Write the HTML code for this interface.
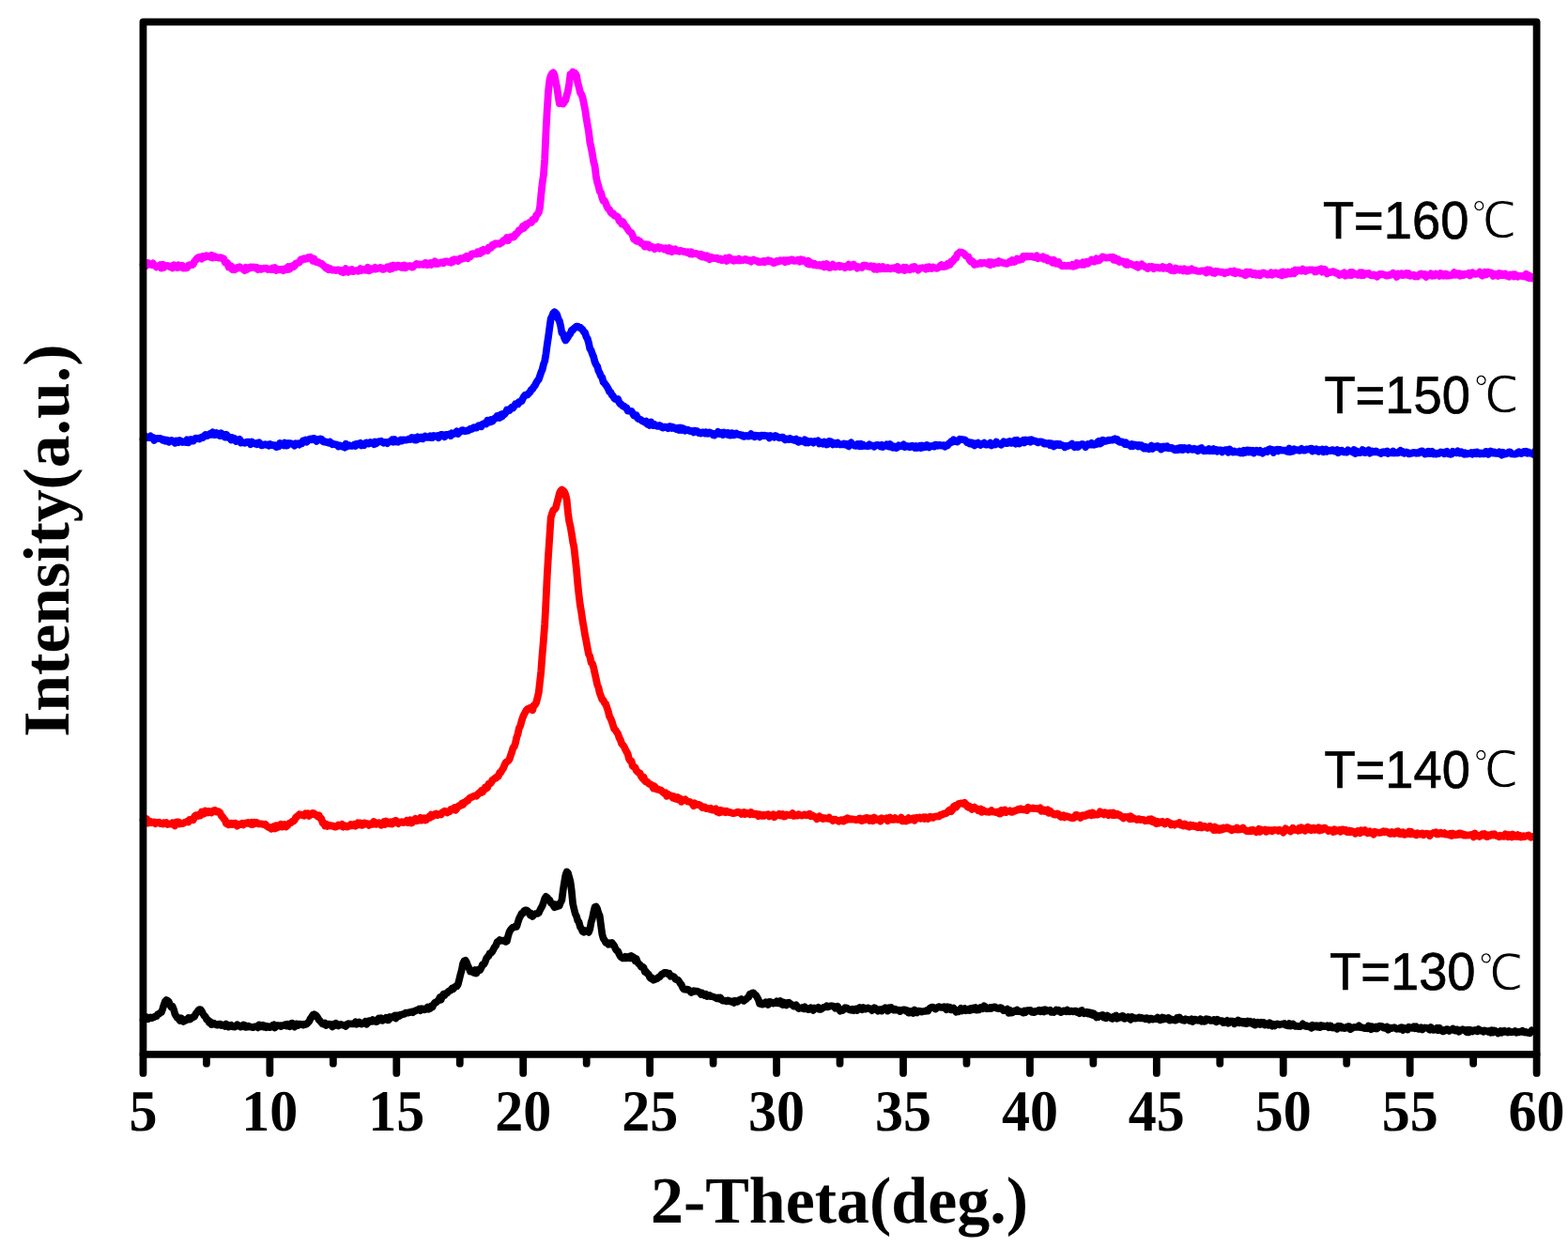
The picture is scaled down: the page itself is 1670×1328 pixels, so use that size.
<!DOCTYPE html>
<html><head><meta charset="utf-8"><style>
html,body{margin:0;padding:0;background:#fff;}
body{width:1670px;height:1328px;overflow:hidden;}
svg{display:block;}
text{text-rendering:geometricPrecision;}
.tl{font-family:"Liberation Serif",serif;font-weight:bold;font-size:60px;text-anchor:middle;}
.xt{font-family:"Liberation Serif",serif;font-weight:bold;font-size:70px;}
.yt{font-family:"Liberation Serif",serif;font-weight:bold;font-size:70px;}
.lg{font-family:"Liberation Sans",sans-serif;font-size:54px;}
.dg{font-family:"Liberation Sans",'WenQuanYi Zen Hei',sans-serif;font-weight:400;font-size:54px;}
</style></head><body>
<svg width="1670" height="1328" viewBox="0 0 1670 1328">
<rect width="1670" height="1328" fill="#fff"/>
<g fill="none" stroke-linejoin="round" stroke-linecap="round">
<polyline points="152.5,1086.3 153.8,1086.2 155.1,1085.3 156.4,1083.3 157.7,1085.2 159.0,1084.6 160.3,1083.4 161.6,1084.2 162.9,1083.6 164.2,1083.1 165.5,1082.3 166.8,1082.1 168.1,1080.1 169.4,1079.7 170.7,1078.4 172.0,1078.0 173.3,1074.2 174.6,1070.0 175.9,1066.4 177.2,1065.0 178.5,1065.5 179.8,1066.9 181.1,1070.2 182.4,1072.5 183.7,1071.8 185.0,1074.9 186.3,1079.8 187.6,1082.1 188.9,1083.9 190.2,1084.6 191.5,1086.9 192.8,1084.2 194.1,1085.3 195.4,1087.9 196.7,1086.7 198.0,1086.8 199.3,1085.5 200.6,1084.1 201.9,1085.6 203.2,1085.1 204.5,1083.3 205.8,1083.3 207.1,1082.6 208.4,1079.8 209.7,1078.3 211.0,1076.3 212.3,1075.1 213.6,1075.1 214.9,1076.9 216.2,1079.6 217.5,1081.8 218.8,1082.7 220.1,1085.7 221.4,1086.0 222.7,1088.9 224.0,1088.2 225.3,1091.1 226.6,1090.7 227.9,1089.7 229.2,1090.8 230.5,1091.4 231.8,1091.7 233.1,1090.6 234.4,1090.6 235.7,1092.1 237.0,1091.5 238.3,1092.3 239.6,1092.9 240.9,1090.6 242.2,1092.6 243.5,1093.6 244.8,1092.2 246.1,1091.7 247.4,1093.3 248.7,1092.9 250.0,1093.6 251.3,1092.4 252.6,1091.3 253.9,1092.7 255.2,1092.4 256.5,1093.7 257.8,1093.2 259.1,1091.4 260.4,1091.9 261.7,1094.0 263.0,1093.8 264.3,1092.6 265.6,1093.2 266.9,1093.7 268.2,1093.8 269.5,1094.2 270.8,1093.6 272.1,1093.3 273.4,1093.1 274.7,1094.4 276.0,1091.4 277.3,1093.3 278.6,1093.4 279.9,1091.9 281.2,1093.7 282.5,1092.6 283.8,1094.1 285.1,1093.0 286.4,1093.8 287.7,1094.2 289.0,1093.3 290.3,1092.0 291.6,1091.3 292.9,1094.4 294.2,1092.5 295.5,1091.8 296.8,1092.5 298.1,1092.1 299.4,1093.1 300.7,1092.2 302.0,1092.1 303.3,1091.3 304.6,1092.4 305.9,1090.8 307.2,1092.5 308.5,1093.3 309.8,1090.2 311.1,1089.7 312.4,1092.3 313.7,1093.6 315.0,1090.6 316.3,1090.3 317.6,1092.0 318.9,1090.5 320.2,1090.8 321.5,1090.9 322.8,1091.6 324.1,1090.6 325.4,1091.1 326.7,1090.5 328.0,1089.1 329.3,1087.7 330.6,1084.8 331.9,1083.1 333.2,1080.8 334.5,1080.2 335.8,1080.9 337.1,1081.9 338.4,1083.7 339.7,1086.3 341.0,1087.3 342.3,1089.0 343.6,1090.4 344.9,1090.8 346.2,1089.7 347.5,1092.0 348.8,1090.8 350.1,1090.5 351.4,1090.8 352.7,1091.5 354.0,1093.5 355.3,1090.7 356.6,1092.0 357.9,1089.8 359.2,1091.7 360.5,1092.5 361.8,1091.3 363.1,1090.8 364.4,1091.5 365.7,1091.9 367.0,1091.7 368.3,1092.9 369.6,1091.0 370.9,1090.1 372.2,1090.5 373.5,1090.4 374.8,1090.5 376.1,1090.2 377.4,1090.3 378.7,1088.3 380.0,1090.7 381.3,1089.2 382.6,1088.4 383.9,1090.1 385.2,1090.6 386.5,1089.7 387.8,1089.2 389.1,1087.9 390.4,1090.7 391.7,1089.4 393.0,1087.1 394.3,1087.3 395.6,1087.9 396.9,1086.1 398.2,1087.5 399.5,1086.7 400.8,1088.1 402.1,1087.6 403.4,1084.4 404.7,1086.2 406.0,1084.3 407.3,1086.8 408.6,1085.6 409.9,1085.7 411.2,1083.8 412.5,1086.4 413.8,1086.3 415.1,1083.0 416.4,1084.1 417.7,1082.8 419.0,1083.1 420.3,1081.6 421.6,1084.4 422.9,1081.3 424.2,1081.6 425.5,1082.1 426.8,1080.6 428.1,1080.6 429.4,1079.9 430.7,1079.9 432.0,1078.5 433.3,1078.8 434.6,1078.6 435.9,1078.1 437.2,1078.2 438.5,1077.5 439.8,1078.2 441.1,1076.8 442.4,1076.6 443.7,1075.8 445.0,1075.6 446.3,1074.6 447.6,1076.1 448.9,1074.2 450.2,1074.4 451.5,1075.3 452.8,1075.2 454.1,1074.2 455.4,1072.5 456.7,1074.7 458.0,1074.0 459.3,1071.4 460.6,1072.4 461.9,1069.5 463.2,1067.6 464.5,1067.6 465.8,1066.2 467.1,1065.3 468.4,1062.3 469.7,1064.6 471.0,1061.0 472.3,1058.9 473.6,1059.9 474.9,1057.9 476.2,1057.5 477.5,1055.9 478.8,1055.2 480.1,1054.5 481.4,1052.6 482.7,1053.3 484.0,1051.5 485.3,1050.4 486.6,1050.3 487.9,1048.0 489.2,1042.9 490.5,1037.5 491.8,1032.8 493.1,1026.1 494.4,1023.3 495.7,1022.8 497.0,1025.0 498.3,1028.6 499.6,1031.1 500.9,1034.7 502.2,1034.6 503.5,1035.1 504.8,1035.9 506.1,1033.1 507.4,1036.5 508.7,1033.1 510.0,1032.3 511.3,1033.0 512.6,1030.7 513.9,1027.0 515.2,1027.1 516.5,1025.0 517.8,1021.2 519.1,1019.2 520.4,1018.1 521.7,1015.1 523.0,1015.0 524.3,1013.3 525.6,1010.9 526.9,1008.4 528.2,1006.9 529.5,1003.2 530.8,1002.7 532.1,1001.0 533.4,1001.9 534.7,1001.5 536.0,1002.0 537.3,1001.3 538.6,1002.9 539.9,1002.3 541.2,996.6 542.5,992.5 543.8,990.2 545.1,988.6 546.4,987.5 547.7,987.6 549.0,986.3 550.3,986.7 551.6,982.3 552.9,978.3 554.2,975.7 555.5,972.8 556.8,972.8 558.1,970.1 559.4,969.4 560.7,969.3 562.0,970.3 563.3,972.1 564.6,974.5 565.9,972.9 567.2,975.9 568.5,974.2 569.8,973.4 571.1,972.8 572.4,972.9 573.7,972.3 575.0,969.5 576.3,967.0 577.6,964.8 578.9,961.0 580.2,956.9 581.5,954.9 582.8,955.8 584.1,957.9 585.4,958.5 586.7,961.5 588.0,962.2 589.3,964.1 590.6,966.2 591.9,963.2 593.2,965.5 594.5,963.6 595.8,964.4 597.1,961.0 598.4,958.5 599.7,948.2 601.0,939.8 602.3,932.2 603.6,928.4 604.9,929.6 606.2,934.0 607.5,939.0 608.8,948.8 610.1,962.4 611.4,968.0 612.7,973.1 614.0,975.8 615.3,980.4 616.6,982.0 617.9,987.1 619.2,988.9 620.5,991.9 621.8,992.7 623.1,991.0 624.4,991.6 625.7,991.7 627.0,992.8 628.3,989.4 629.6,982.1 630.9,978.0 632.2,971.4 633.5,966.1 634.8,965.5 636.1,967.7 637.4,972.3 638.7,975.3 640.0,985.1 641.3,994.8 642.6,999.6 643.9,1001.2 645.2,1004.0 646.5,1004.0 647.8,1005.7 649.1,1004.3 650.4,1005.5 651.7,1004.0 653.0,1005.6 654.3,1007.3 655.6,1010.7 656.9,1012.4 658.2,1013.1 659.5,1016.4 660.8,1018.6 662.1,1019.6 663.4,1020.4 664.7,1020.5 666.0,1018.8 667.3,1020.4 668.6,1020.2 669.9,1018.9 671.2,1020.3 672.5,1018.0 673.8,1019.0 675.1,1019.7 676.4,1023.2 677.7,1021.0 679.0,1024.6 680.3,1026.4 681.6,1027.3 682.9,1029.8 684.2,1029.5 685.5,1030.4 686.8,1035.0 688.1,1034.7 689.4,1036.9 690.7,1037.4 692.0,1040.9 693.3,1042.0 694.6,1041.4 695.9,1043.7 697.2,1043.1 698.5,1042.6 699.8,1042.1 701.1,1040.9 702.4,1040.5 703.7,1039.0 705.0,1037.3 706.3,1037.1 707.6,1035.9 708.9,1035.8 710.2,1036.1 711.5,1037.3 712.8,1036.8 714.1,1039.8 715.4,1039.2 716.7,1039.9 718.0,1040.4 719.3,1042.7 720.6,1043.3 721.9,1043.6 723.2,1045.1 724.5,1047.3 725.8,1048.7 727.1,1051.9 728.4,1053.4 729.7,1053.7 731.0,1053.8 732.3,1053.5 733.6,1054.3 734.9,1055.5 736.2,1057.0 737.5,1056.2 738.8,1055.2 740.1,1055.8 741.4,1055.5 742.7,1055.5 744.0,1056.3 745.3,1057.0 746.6,1059.0 747.9,1057.6 749.2,1059.3 750.5,1060.1 751.8,1058.9 753.1,1061.0 754.4,1060.6 755.7,1059.9 757.0,1061.1 758.3,1061.3 759.6,1061.5 760.9,1062.0 762.2,1062.7 763.5,1063.4 764.8,1062.5 766.1,1063.8 767.4,1062.7 768.7,1064.9 770.0,1065.7 771.3,1065.5 772.6,1065.9 773.9,1066.4 775.2,1065.3 776.5,1065.8 777.8,1066.5 779.1,1067.0 780.4,1066.3 781.7,1067.9 783.0,1065.7 784.3,1066.7 785.6,1066.9 786.9,1065.3 788.2,1064.5 789.5,1064.0 790.8,1065.2 792.1,1065.9 793.4,1064.9 794.7,1064.2 796.0,1062.5 797.3,1062.0 798.6,1058.5 799.9,1058.6 801.2,1057.6 802.5,1057.4 803.8,1059.3 805.1,1059.8 806.4,1062.2 807.7,1064.5 809.0,1068.8 810.3,1067.9 811.6,1069.6 812.9,1069.4 814.2,1069.0 815.5,1067.3 816.8,1067.9 818.1,1070.0 819.4,1066.9 820.7,1067.1 822.0,1067.7 823.3,1068.5 824.6,1067.8 825.9,1068.2 827.2,1066.3 828.5,1068.4 829.8,1068.0 831.1,1066.0 832.4,1069.3 833.7,1070.0 835.0,1067.6 836.3,1068.7 837.6,1070.4 838.9,1067.9 840.2,1067.7 841.5,1068.8 842.8,1069.9 844.1,1070.2 845.4,1071.7 846.7,1071.7 848.0,1070.4 849.3,1072.5 850.6,1074.0 851.9,1073.6 853.2,1073.6 854.5,1072.9 855.8,1074.1 857.1,1072.4 858.4,1074.4 859.7,1073.8 861.0,1075.2 862.3,1074.7 863.6,1073.3 864.9,1074.6 866.2,1075.8 867.5,1073.5 868.8,1074.0 870.1,1073.7 871.4,1072.8 872.7,1075.0 874.0,1075.0 875.3,1074.2 876.6,1073.2 877.9,1072.5 879.2,1072.5 880.5,1071.2 881.8,1072.3 883.1,1071.9 884.4,1071.4 885.7,1071.2 887.0,1071.4 888.3,1071.7 889.6,1073.8 890.9,1073.2 892.2,1071.8 893.5,1074.7 894.8,1076.7 896.1,1075.8 897.4,1076.1 898.7,1075.2 900.0,1073.2 901.3,1073.4 902.6,1073.9 903.9,1075.0 905.2,1075.5 906.5,1075.8 907.8,1074.8 909.1,1076.1 910.4,1074.8 911.7,1074.4 913.0,1075.9 914.3,1074.1 915.6,1073.0 916.9,1073.9 918.2,1075.1 919.5,1073.0 920.8,1074.6 922.1,1074.6 923.4,1073.5 924.7,1073.4 926.0,1074.4 927.3,1074.3 928.6,1076.1 929.9,1075.2 931.2,1073.2 932.5,1073.9 933.8,1075.4 935.1,1076.6 936.4,1075.1 937.7,1075.0 939.0,1076.5 940.3,1074.6 941.6,1074.3 942.9,1073.2 944.2,1074.1 945.5,1076.6 946.8,1073.2 948.1,1074.6 949.4,1073.2 950.7,1074.8 952.0,1075.6 953.3,1074.6 954.6,1075.6 955.9,1075.8 957.2,1075.7 958.5,1077.1 959.8,1076.3 961.1,1075.5 962.4,1075.3 963.7,1075.3 965.0,1076.8 966.3,1076.2 967.6,1078.7 968.9,1078.7 970.2,1076.8 971.5,1076.9 972.8,1079.0 974.1,1075.5 975.4,1077.0 976.7,1078.4 978.0,1076.6 979.3,1076.9 980.6,1076.9 981.9,1077.7 983.2,1077.0 984.5,1076.9 985.8,1076.8 987.1,1075.9 988.4,1076.6 989.7,1074.4 991.0,1073.3 992.3,1072.6 993.6,1072.5 994.9,1073.3 996.2,1074.6 997.5,1073.6 998.8,1072.7 1000.1,1072.1 1001.4,1072.7 1002.7,1072.9 1004.0,1072.9 1005.3,1072.2 1006.6,1073.4 1007.9,1075.1 1009.2,1072.3 1010.5,1074.4 1011.8,1072.9 1013.1,1075.3 1014.4,1074.6 1015.7,1073.6 1017.0,1075.9 1018.3,1077.7 1019.6,1076.1 1020.9,1077.2 1022.2,1075.9 1023.5,1073.9 1024.8,1076.4 1026.1,1075.4 1027.4,1074.2 1028.7,1076.3 1030.0,1075.7 1031.3,1074.7 1032.6,1076.0 1033.9,1074.1 1035.2,1075.4 1036.5,1073.6 1037.8,1074.9 1039.1,1073.1 1040.4,1075.6 1041.7,1074.2 1043.0,1075.2 1044.3,1072.8 1045.6,1073.0 1046.9,1074.2 1048.2,1071.3 1049.5,1072.2 1050.8,1074.2 1052.1,1073.7 1053.4,1074.2 1054.7,1073.0 1056.0,1074.0 1057.3,1072.8 1058.6,1072.4 1059.9,1072.3 1061.2,1073.7 1062.5,1073.9 1063.8,1074.1 1065.1,1073.1 1066.4,1073.3 1067.7,1075.1 1069.0,1076.2 1070.3,1075.5 1071.6,1075.5 1072.9,1074.5 1074.2,1078.7 1075.5,1075.7 1076.8,1078.6 1078.1,1078.5 1079.4,1077.2 1080.7,1076.3 1082.0,1077.0 1083.3,1075.7 1084.6,1077.2 1085.9,1076.9 1087.2,1077.4 1088.5,1077.9 1089.8,1078.6 1091.1,1076.5 1092.4,1077.9 1093.7,1076.1 1095.0,1076.0 1096.3,1076.3 1097.6,1075.9 1098.9,1077.9 1100.2,1077.8 1101.5,1078.2 1102.8,1076.9 1104.1,1077.2 1105.4,1076.3 1106.7,1075.7 1108.0,1077.3 1109.3,1077.2 1110.6,1075.8 1111.9,1077.5 1113.2,1075.2 1114.5,1076.7 1115.8,1076.3 1117.1,1076.4 1118.4,1075.8 1119.7,1077.9 1121.0,1077.5 1122.3,1078.1 1123.6,1077.0 1124.9,1075.6 1126.2,1076.5 1127.5,1075.7 1128.8,1077.4 1130.1,1078.2 1131.4,1077.3 1132.7,1076.4 1134.0,1076.6 1135.3,1077.2 1136.6,1075.6 1137.9,1077.2 1139.2,1077.3 1140.5,1076.6 1141.8,1076.8 1143.1,1077.4 1144.4,1076.5 1145.7,1076.5 1147.0,1078.1 1148.3,1077.6 1149.6,1079.1 1150.9,1076.6 1152.2,1076.0 1153.5,1078.9 1154.8,1079.3 1156.1,1078.0 1157.4,1077.7 1158.7,1079.5 1160.0,1078.3 1161.3,1080.1 1162.6,1078.9 1163.9,1080.9 1165.2,1079.5 1166.5,1081.5 1167.8,1083.4 1169.1,1081.7 1170.4,1082.9 1171.7,1081.6 1173.0,1081.4 1174.3,1080.9 1175.6,1083.6 1176.9,1082.6 1178.2,1084.3 1179.5,1081.6 1180.8,1082.7 1182.1,1083.1 1183.4,1084.5 1184.7,1085.0 1186.0,1082.6 1187.3,1082.2 1188.6,1081.6 1189.9,1084.8 1191.2,1083.4 1192.5,1082.9 1193.8,1083.6 1195.1,1081.8 1196.4,1082.0 1197.7,1084.8 1199.0,1084.3 1200.3,1084.1 1201.6,1083.0 1202.9,1084.6 1204.2,1085.9 1205.5,1082.9 1206.8,1084.2 1208.1,1083.8 1209.4,1084.6 1210.7,1084.3 1212.0,1084.2 1213.3,1083.5 1214.6,1084.4 1215.9,1083.9 1217.2,1084.4 1218.5,1084.5 1219.8,1085.3 1221.1,1084.1 1222.4,1084.4 1223.7,1085.8 1225.0,1084.6 1226.3,1084.5 1227.6,1085.7 1228.9,1085.2 1230.2,1085.0 1231.5,1085.2 1232.8,1083.7 1234.1,1085.5 1235.4,1086.4 1236.7,1085.6 1238.0,1083.5 1239.3,1085.4 1240.6,1084.2 1241.9,1084.9 1243.2,1085.3 1244.5,1084.0 1245.8,1086.6 1247.1,1085.2 1248.4,1086.1 1249.7,1086.0 1251.0,1086.7 1252.3,1086.6 1253.6,1083.9 1254.9,1085.5 1256.2,1083.5 1257.5,1085.0 1258.8,1086.2 1260.1,1086.5 1261.4,1086.9 1262.7,1085.2 1264.0,1086.0 1265.3,1085.8 1266.6,1087.0 1267.9,1087.3 1269.2,1085.4 1270.5,1087.9 1271.8,1085.9 1273.1,1085.5 1274.4,1086.5 1275.7,1086.8 1277.0,1086.6 1278.3,1085.4 1279.6,1087.6 1280.9,1086.3 1282.2,1087.8 1283.5,1087.7 1284.8,1085.1 1286.1,1085.5 1287.4,1085.5 1288.7,1086.8 1290.0,1086.7 1291.3,1087.0 1292.6,1086.0 1293.9,1087.3 1295.2,1088.3 1296.5,1085.7 1297.8,1086.9 1299.1,1087.4 1300.4,1087.1 1301.7,1087.1 1303.0,1089.2 1304.3,1088.8 1305.6,1088.4 1306.9,1086.9 1308.2,1089.8 1309.5,1088.2 1310.8,1087.4 1312.1,1087.7 1313.4,1087.6 1314.7,1090.2 1316.0,1088.5 1317.3,1088.4 1318.6,1086.5 1319.9,1089.3 1321.2,1087.6 1322.5,1087.6 1323.8,1089.5 1325.1,1088.1 1326.4,1089.9 1327.7,1090.2 1329.0,1087.4 1330.3,1089.2 1331.6,1087.8 1332.9,1089.4 1334.2,1090.5 1335.5,1088.3 1336.8,1091.6 1338.1,1089.5 1339.4,1088.7 1340.7,1089.9 1342.0,1090.9 1343.3,1088.8 1344.6,1090.3 1345.9,1089.0 1347.2,1091.6 1348.5,1090.7 1349.8,1090.1 1351.1,1091.7 1352.4,1089.4 1353.7,1090.4 1355.0,1092.7 1356.3,1090.8 1357.6,1092.4 1358.9,1091.3 1360.2,1090.4 1361.5,1090.9 1362.8,1091.3 1364.1,1090.9 1365.4,1090.6 1366.7,1090.7 1368.0,1090.0 1369.3,1091.7 1370.6,1092.0 1371.9,1092.4 1373.2,1089.9 1374.5,1092.6 1375.8,1091.8 1377.1,1090.5 1378.4,1092.1 1379.7,1092.9 1381.0,1092.6 1382.3,1092.9 1383.6,1093.2 1384.9,1093.2 1386.2,1092.3 1387.5,1090.4 1388.8,1091.7 1390.1,1092.9 1391.4,1092.1 1392.7,1093.3 1394.0,1093.5 1395.3,1092.8 1396.6,1094.7 1397.9,1091.8 1399.2,1093.8 1400.5,1092.5 1401.8,1092.2 1403.1,1093.6 1404.4,1092.5 1405.7,1094.0 1407.0,1092.0 1408.3,1093.3 1409.6,1092.4 1410.9,1093.1 1412.2,1093.0 1413.5,1092.3 1414.8,1094.1 1416.1,1092.3 1417.4,1092.6 1418.7,1094.5 1420.0,1094.6 1421.3,1094.3 1422.6,1094.0 1423.9,1095.8 1425.2,1092.6 1426.5,1093.1 1427.8,1092.9 1429.1,1094.8 1430.4,1094.2 1431.7,1095.1 1433.0,1095.0 1434.3,1093.8 1435.6,1093.2 1436.9,1093.1 1438.2,1096.1 1439.5,1095.1 1440.8,1094.7 1442.1,1093.8 1443.4,1094.0 1444.7,1093.9 1446.0,1093.9 1447.3,1092.3 1448.6,1094.2 1449.9,1093.9 1451.2,1094.6 1452.5,1094.6 1453.8,1095.2 1455.1,1094.4 1456.4,1095.2 1457.7,1092.4 1459.0,1093.3 1460.3,1096.2 1461.6,1093.3 1462.9,1094.2 1464.2,1095.2 1465.5,1093.7 1466.8,1095.3 1468.1,1093.1 1469.4,1092.7 1470.7,1093.3 1472.0,1093.0 1473.3,1094.6 1474.6,1094.3 1475.9,1095.0 1477.2,1093.7 1478.5,1096.7 1479.8,1094.6 1481.1,1094.7 1482.4,1095.2 1483.7,1094.5 1485.0,1094.2 1486.3,1094.9 1487.6,1095.8 1488.9,1095.5 1490.2,1095.8 1491.5,1094.3 1492.8,1094.2 1494.1,1097.0 1495.4,1094.7 1496.7,1095.5 1498.0,1095.8 1499.3,1096.5 1500.6,1093.7 1501.9,1094.6 1503.2,1094.7 1504.5,1094.9 1505.8,1093.2 1507.1,1095.1 1508.4,1093.3 1509.7,1095.6 1511.0,1095.9 1512.3,1096.0 1513.6,1094.2 1514.9,1096.4 1516.2,1094.7 1517.5,1094.4 1518.8,1094.7 1520.1,1094.8 1521.4,1095.9 1522.7,1096.6 1524.0,1093.9 1525.3,1095.4 1526.6,1096.9 1527.9,1096.2 1529.2,1096.6 1530.5,1094.7 1531.8,1097.2 1533.1,1094.7 1534.4,1096.5 1535.7,1097.8 1537.0,1098.4 1538.3,1097.0 1539.6,1097.5 1540.9,1096.0 1542.2,1096.2 1543.5,1097.9 1544.8,1096.8 1546.1,1096.8 1547.4,1095.5 1548.7,1097.2 1550.0,1097.7 1551.3,1096.3 1552.6,1096.7 1553.9,1098.8 1555.2,1097.4 1556.5,1097.0 1557.8,1096.2 1559.1,1096.8 1560.4,1097.2 1561.7,1098.8 1563.0,1096.9 1564.3,1099.3 1565.6,1096.7 1566.9,1097.3 1568.2,1098.5 1569.5,1097.5 1570.8,1096.9 1572.1,1097.6 1573.4,1098.3 1574.7,1096.1 1576.0,1097.6 1577.3,1097.8 1578.6,1097.5 1579.9,1098.7 1581.2,1097.4 1582.5,1097.7 1583.8,1098.1 1585.1,1098.8 1586.4,1097.9 1587.7,1099.7 1589.0,1097.3 1590.3,1099.5 1591.6,1097.4 1592.9,1098.1 1594.2,1098.7 1595.5,1100.4 1596.8,1099.3 1598.1,1098.0 1599.4,1099.7 1600.7,1098.3 1602.0,1097.7 1603.3,1099.0 1604.6,1098.7 1605.9,1099.5 1607.2,1098.1 1608.5,1099.0 1609.8,1099.3 1611.1,1099.0 1612.4,1098.7 1613.7,1098.0 1615.0,1099.7 1616.3,1098.9 1617.6,1099.3 1618.9,1098.5 1620.2,1098.9 1621.5,1097.8 1622.8,1099.0 1624.1,1099.7 1625.4,1099.0 1626.7,1099.8 1628.0,1099.3 1629.3,1100.3 1630.6,1098.8 1631.4,1097.4" stroke="#000" stroke-width="7.7"/>
<polyline points="152.5,873.5 153.8,873.1 155.1,873.6 156.4,872.4 157.7,876.5 159.0,876.1 160.3,875.0 161.6,876.3 162.9,876.0 164.2,875.4 165.5,877.1 166.8,875.9 168.1,876.0 169.4,875.7 170.7,877.0 172.0,876.6 173.3,877.4 174.6,876.3 175.9,877.1 177.2,876.2 178.5,878.0 179.8,877.4 181.1,877.6 182.4,877.7 183.7,876.3 185.0,878.1 186.3,879.3 187.6,875.5 188.9,875.3 190.2,875.4 191.5,877.5 192.8,876.6 194.1,877.2 195.4,876.6 196.7,875.8 198.0,875.5 199.3,874.7 200.6,875.4 201.9,872.8 203.2,872.8 204.5,872.6 205.8,873.2 207.1,869.6 208.4,868.4 209.7,868.1 211.0,869.0 212.3,867.3 213.6,868.3 214.9,864.6 216.2,867.0 217.5,866.4 218.8,863.5 220.1,864.7 221.4,865.4 222.7,863.9 224.0,864.6 225.3,865.5 226.6,863.7 227.9,863.2 229.2,862.9 230.5,864.6 231.8,864.1 233.1,864.5 234.4,865.7 235.7,868.7 237.0,869.8 238.3,871.9 239.6,873.1 240.9,876.9 242.2,876.3 243.5,878.2 244.8,877.1 246.1,876.7 247.4,878.1 248.7,877.7 250.0,876.6 251.3,877.0 252.6,879.6 253.9,878.1 255.2,878.1 256.5,877.3 257.8,876.8 259.1,878.3 260.4,877.1 261.7,876.4 263.0,876.9 264.3,876.0 265.6,877.0 266.9,877.8 268.2,875.8 269.5,878.0 270.8,875.9 272.1,876.9 273.4,876.0 274.7,876.9 276.0,877.5 277.3,877.3 278.6,877.4 279.9,877.9 281.2,878.1 282.5,877.7 283.8,879.4 285.1,880.4 286.4,881.2 287.7,881.1 289.0,882.6 290.3,880.9 291.6,880.1 292.9,882.4 294.2,879.4 295.5,881.3 296.8,879.2 298.1,880.3 299.4,877.8 300.7,880.5 302.0,879.2 303.3,878.1 304.6,880.5 305.9,879.3 307.2,878.1 308.5,876.5 309.8,876.2 311.1,874.9 312.4,874.6 313.7,873.4 315.0,870.7 316.3,869.7 317.6,868.7 318.9,867.2 320.2,867.5 321.5,867.8 322.8,868.3 324.1,868.7 325.4,866.4 326.7,867.6 328.0,866.5 329.3,868.8 330.6,866.7 331.9,867.2 333.2,865.9 334.5,866.3 335.8,867.8 337.1,867.9 338.4,869.4 339.7,868.3 341.0,871.5 342.3,871.7 343.6,876.3 344.9,876.3 346.2,879.4 347.5,877.8 348.8,879.8 350.1,878.6 351.4,879.1 352.7,879.6 354.0,879.4 355.3,880.0 356.6,880.5 357.9,880.5 359.2,879.8 360.5,878.5 361.8,879.1 363.1,879.7 364.4,877.9 365.7,880.6 367.0,879.6 368.3,879.5 369.6,880.6 370.9,880.1 372.2,879.6 373.5,878.2 374.8,879.3 376.1,879.2 377.4,877.8 378.7,879.6 380.0,878.9 381.3,876.2 382.6,878.2 383.9,876.6 385.2,878.9 386.5,878.5 387.8,876.5 389.1,876.6 390.4,877.6 391.7,877.2 393.0,878.9 394.3,878.0 395.6,876.9 396.9,877.7 398.2,875.1 399.5,877.3 400.8,877.8 402.1,876.7 403.4,876.2 404.7,877.4 406.0,878.7 407.3,876.9 408.6,875.5 409.9,878.0 411.2,874.6 412.5,876.9 413.8,875.8 415.1,877.2 416.4,875.3 417.7,877.4 419.0,876.3 420.3,874.2 421.6,873.9 422.9,875.5 424.2,877.0 425.5,875.7 426.8,875.6 428.1,875.2 429.4,876.1 430.7,875.6 432.0,875.4 433.3,874.0 434.6,876.1 435.9,876.1 437.2,873.3 438.5,876.5 439.8,875.0 441.1,873.6 442.4,872.0 443.7,874.3 445.0,874.0 446.3,872.5 447.6,871.0 448.9,873.6 450.2,871.6 451.5,871.3 452.8,873.5 454.1,873.1 455.4,871.7 456.7,869.9 458.0,870.6 459.3,867.6 460.6,869.3 461.9,868.0 463.2,867.1 464.5,866.5 465.8,868.2 467.1,867.4 468.4,867.1 469.7,867.5 471.0,865.4 472.3,864.6 473.6,863.7 474.9,864.7 476.2,865.4 477.5,864.1 478.8,864.4 480.1,862.0 481.4,862.2 482.7,861.3 484.0,860.2 485.3,862.7 486.6,861.0 487.9,858.7 489.2,858.0 490.5,858.0 491.8,855.9 493.1,856.9 494.4,854.4 495.7,854.4 497.0,852.8 498.3,852.4 499.6,850.6 500.9,849.4 502.2,849.0 503.5,848.3 504.8,847.8 506.1,847.2 507.4,847.8 508.7,846.3 510.0,844.4 511.3,844.5 512.6,842.2 513.9,843.5 515.2,841.6 516.5,838.8 517.8,839.8 519.1,838.7 520.4,834.7 521.7,834.7 523.0,833.6 524.3,830.8 525.6,830.2 526.9,828.8 528.2,828.7 529.5,826.9 530.8,826.9 532.1,822.9 533.4,822.7 534.7,819.9 536.0,818.3 537.3,815.0 538.6,812.2 539.9,811.2 541.2,810.4 542.5,808.7 543.8,804.7 545.1,801.2 546.4,796.4 547.7,795.2 549.0,791.2 550.3,785.2 551.6,781.4 552.9,775.4 554.2,773.0 555.5,768.0 556.8,763.8 558.1,761.0 559.4,758.5 560.7,756.4 562.0,755.0 563.3,754.6 564.6,753.8 565.9,755.5 567.2,756.2 568.5,751.1 569.8,750.8 571.1,748.3 572.4,743.3 573.7,737.7 575.0,726.4 576.3,714.3 577.6,696.7 578.9,681.7 580.2,664.5 581.5,639.9 582.8,611.8 584.1,590.2 585.4,570.8 586.7,551.1 588.0,546.8 589.3,543.2 590.6,542.7 591.9,541.0 593.2,535.7 594.5,531.1 595.8,525.6 597.1,522.7 598.4,521.6 599.7,522.4 601.0,523.6 602.3,526.8 603.6,532.1 604.9,545.4 606.2,555.3 607.5,560.6 608.8,568.1 610.1,576.8 611.4,582.8 612.7,595.0 614.0,606.6 615.3,621.7 616.6,633.8 617.9,644.5 619.2,651.9 620.5,661.2 621.8,668.4 623.1,676.5 624.4,682.9 625.7,690.1 627.0,696.7 628.3,699.1 629.6,705.6 630.9,706.7 632.2,710.8 633.5,717.2 634.8,722.7 636.1,728.9 637.4,732.1 638.7,737.9 640.0,741.2 641.3,744.9 642.6,745.8 643.9,748.7 645.2,749.8 646.5,753.8 647.8,757.5 649.1,763.0 650.4,765.2 651.7,768.5 653.0,772.7 654.3,776.5 655.6,777.5 656.9,779.8 658.2,781.6 659.5,785.7 660.8,787.9 662.1,792.0 663.4,793.5 664.7,795.1 666.0,798.2 667.3,800.5 668.6,802.9 669.9,808.0 671.2,810.1 672.5,810.5 673.8,815.9 675.1,816.5 676.4,817.3 677.7,820.5 679.0,821.8 680.3,822.8 681.6,823.3 682.9,826.8 684.2,828.6 685.5,827.6 686.8,831.5 688.1,832.7 689.4,832.7 690.7,834.3 692.0,835.0 693.3,835.4 694.6,836.8 695.9,839.4 697.2,837.4 698.5,839.9 699.8,840.7 701.1,840.5 702.4,841.5 703.7,841.3 705.0,842.5 706.3,844.0 707.6,845.0 708.9,844.3 710.2,847.8 711.5,845.8 712.8,847.0 714.1,847.2 715.4,847.5 716.7,849.7 718.0,848.4 719.3,850.7 720.6,851.0 721.9,849.2 723.2,851.8 724.5,850.6 725.8,853.8 727.1,851.9 728.4,851.8 729.7,851.3 731.0,852.5 732.3,853.7 733.6,853.7 734.9,854.0 736.2,855.0 737.5,856.0 738.8,858.1 740.1,855.4 741.4,857.0 742.7,857.0 744.0,856.8 745.3,857.5 746.6,858.2 747.9,860.1 749.2,859.6 750.5,859.5 751.8,861.0 753.1,861.0 754.4,860.8 755.7,861.7 757.0,860.8 758.3,862.5 759.6,862.6 760.9,862.0 762.2,861.4 763.5,864.4 764.8,863.2 766.1,865.4 767.4,862.9 768.7,864.6 770.0,863.5 771.3,864.4 772.6,865.2 773.9,863.7 775.2,864.5 776.5,865.0 777.8,865.1 779.1,865.7 780.4,866.2 781.7,866.2 783.0,865.7 784.3,865.3 785.6,864.6 786.9,865.1 788.2,865.4 789.5,866.8 790.8,865.8 792.1,865.0 793.4,867.0 794.7,865.7 796.0,865.9 797.3,866.5 798.6,867.3 799.9,865.0 801.2,866.0 802.5,867.4 803.8,867.0 805.1,866.6 806.4,867.1 807.7,869.1 809.0,867.4 810.3,868.7 811.6,868.9 812.9,867.7 814.2,868.7 815.5,867.9 816.8,867.7 818.1,867.3 819.4,869.3 820.7,868.0 822.0,867.8 823.3,867.3 824.6,870.2 825.9,869.1 827.2,868.3 828.5,867.7 829.8,866.9 831.1,868.7 832.4,868.7 833.7,867.0 835.0,869.6 836.3,869.2 837.6,867.4 838.9,867.8 840.2,867.8 841.5,868.2 842.8,867.8 844.1,866.1 845.4,869.0 846.7,867.8 848.0,868.7 849.3,868.7 850.6,867.2 851.9,867.9 853.2,868.4 854.5,868.5 855.8,867.7 857.1,867.4 858.4,868.3 859.7,867.6 861.0,868.1 862.3,866.8 863.6,869.2 864.9,868.3 866.2,869.0 867.5,869.8 868.8,870.4 870.1,872.2 871.4,870.8 872.7,869.4 874.0,871.2 875.3,870.7 876.6,872.0 877.9,871.1 879.2,871.3 880.5,871.7 881.8,871.8 883.1,870.7 884.4,872.1 885.7,872.8 887.0,874.1 888.3,872.7 889.6,872.7 890.9,873.7 892.2,873.6 893.5,874.7 894.8,873.7 896.1,873.1 897.4,874.4 898.7,874.6 900.0,872.6 901.3,873.2 902.6,871.3 903.9,872.6 905.2,872.1 906.5,872.7 907.8,872.4 909.1,872.7 910.4,872.7 911.7,873.3 913.0,873.0 914.3,872.2 915.6,871.5 916.9,873.9 918.2,874.1 919.5,872.2 920.8,873.2 922.1,871.1 923.4,871.0 924.7,872.3 926.0,874.0 927.3,871.5 928.6,871.7 929.9,874.1 931.2,870.6 932.5,873.1 933.8,873.0 935.1,872.3 936.4,872.7 937.7,874.5 939.0,871.4 940.3,872.2 941.6,872.3 942.9,871.8 944.2,871.2 945.5,874.1 946.8,872.7 948.1,870.7 949.4,871.8 950.7,872.9 952.0,872.9 953.3,871.1 954.6,872.4 955.9,872.8 957.2,872.9 958.5,872.9 959.8,870.7 961.1,874.3 962.4,872.7 963.7,874.3 965.0,874.5 966.3,872.3 967.6,871.2 968.9,873.3 970.2,872.2 971.5,871.8 972.8,871.2 974.1,873.8 975.4,871.6 976.7,870.6 978.0,871.4 979.3,870.6 980.6,871.8 981.9,871.1 983.2,870.3 984.5,871.8 985.8,870.4 987.1,871.6 988.4,872.0 989.7,870.2 991.0,869.7 992.3,870.4 993.6,870.9 994.9,869.8 996.2,869.7 997.5,869.3 998.8,869.4 1000.1,869.5 1001.4,867.9 1002.7,867.7 1004.0,867.6 1005.3,866.3 1006.6,866.4 1007.9,866.0 1009.2,864.7 1010.5,863.3 1011.8,862.4 1013.1,864.1 1014.4,862.2 1015.7,859.0 1017.0,858.1 1018.3,859.7 1019.6,858.0 1020.9,856.1 1022.2,855.8 1023.5,855.3 1024.8,855.5 1026.1,856.3 1027.4,854.9 1028.7,856.3 1030.0,858.7 1031.3,859.8 1032.6,858.7 1033.9,860.2 1035.2,861.9 1036.5,860.2 1037.8,859.6 1039.1,861.2 1040.4,861.2 1041.7,863.2 1043.0,862.4 1044.3,861.7 1045.6,864.8 1046.9,862.6 1048.2,863.8 1049.5,864.3 1050.8,864.6 1052.1,864.3 1053.4,864.9 1054.7,864.4 1056.0,863.2 1057.3,864.5 1058.6,864.7 1059.9,864.8 1061.2,865.2 1062.5,864.5 1063.8,866.4 1065.1,866.6 1066.4,863.0 1067.7,865.0 1069.0,864.1 1070.3,862.7 1071.6,865.0 1072.9,863.8 1074.2,863.8 1075.5,863.3 1076.8,864.9 1078.1,864.8 1079.4,863.6 1080.7,863.8 1082.0,862.8 1083.3,862.8 1084.6,861.7 1085.9,862.2 1087.2,861.3 1088.5,862.2 1089.8,862.4 1091.1,861.8 1092.4,862.5 1093.7,863.0 1095.0,859.8 1096.3,861.0 1097.6,860.9 1098.9,860.9 1100.2,860.5 1101.5,861.2 1102.8,861.1 1104.1,860.9 1105.4,861.6 1106.7,861.5 1108.0,860.4 1109.3,863.8 1110.6,862.8 1111.9,862.5 1113.2,864.1 1114.5,863.5 1115.8,862.5 1117.1,865.8 1118.4,863.6 1119.7,865.3 1121.0,866.0 1122.3,867.5 1123.6,867.7 1124.9,867.0 1126.2,866.4 1127.5,867.1 1128.8,869.0 1130.1,870.1 1131.4,869.2 1132.7,868.3 1134.0,870.3 1135.3,869.2 1136.6,869.4 1137.9,869.7 1139.2,870.7 1140.5,870.5 1141.8,871.2 1143.1,871.4 1144.4,870.5 1145.7,867.9 1147.0,868.0 1148.3,869.6 1149.6,869.1 1150.9,870.9 1152.2,868.6 1153.5,868.2 1154.8,869.0 1156.1,868.9 1157.4,867.4 1158.7,867.9 1160.0,866.2 1161.3,866.2 1162.6,868.3 1163.9,865.5 1165.2,867.8 1166.5,867.4 1167.8,867.4 1169.1,867.5 1170.4,867.1 1171.7,864.4 1173.0,865.4 1174.3,865.8 1175.6,867.3 1176.9,865.3 1178.2,865.9 1179.5,866.3 1180.8,868.1 1182.1,865.6 1183.4,865.8 1184.7,868.0 1186.0,865.6 1187.3,868.2 1188.6,867.7 1189.9,866.8 1191.2,868.3 1192.5,868.0 1193.8,869.4 1195.1,869.9 1196.4,871.3 1197.7,870.0 1199.0,870.4 1200.3,870.0 1201.6,870.7 1202.9,872.0 1204.2,869.2 1205.5,872.0 1206.8,871.0 1208.1,871.8 1209.4,872.2 1210.7,873.0 1212.0,872.5 1213.3,872.1 1214.6,873.0 1215.9,872.9 1217.2,872.8 1218.5,873.4 1219.8,874.3 1221.1,873.7 1222.4,873.9 1223.7,872.7 1225.0,874.0 1226.3,872.4 1227.6,875.2 1228.9,873.7 1230.2,876.1 1231.5,877.0 1232.8,874.8 1234.1,876.7 1235.4,875.9 1236.7,875.1 1238.0,875.0 1239.3,876.5 1240.6,877.5 1241.9,876.6 1243.2,874.9 1244.5,875.6 1245.8,876.5 1247.1,878.3 1248.4,877.3 1249.7,877.5 1251.0,878.6 1252.3,877.3 1253.6,877.6 1254.9,877.6 1256.2,876.2 1257.5,878.6 1258.8,878.7 1260.1,879.4 1261.4,877.4 1262.7,877.9 1264.0,879.8 1265.3,879.3 1266.6,880.5 1267.9,878.5 1269.2,879.7 1270.5,878.9 1271.8,880.1 1273.1,879.4 1274.4,880.6 1275.7,881.3 1277.0,881.0 1278.3,878.6 1279.6,881.5 1280.9,881.2 1282.2,879.8 1283.5,880.1 1284.8,881.1 1286.1,881.8 1287.4,880.9 1288.7,879.8 1290.0,881.8 1291.3,881.8 1292.6,883.8 1293.9,880.6 1295.2,884.0 1296.5,883.8 1297.8,882.4 1299.1,883.9 1300.4,882.4 1301.7,883.4 1303.0,881.7 1304.3,882.6 1305.6,881.6 1306.9,881.1 1308.2,882.5 1309.5,882.2 1310.8,883.5 1312.1,884.2 1313.4,882.8 1314.7,883.1 1316.0,883.3 1317.3,881.5 1318.6,883.6 1319.9,883.4 1321.2,883.4 1322.5,882.4 1323.8,881.6 1325.1,883.4 1326.4,884.0 1327.7,885.1 1329.0,884.9 1330.3,885.3 1331.6,884.3 1332.9,885.1 1334.2,883.8 1335.5,884.7 1336.8,885.0 1338.1,886.2 1339.4,884.4 1340.7,883.0 1342.0,885.7 1343.3,883.5 1344.6,884.3 1345.9,884.1 1347.2,883.5 1348.5,885.8 1349.8,885.1 1351.1,883.9 1352.4,884.6 1353.7,884.1 1355.0,885.2 1356.3,884.2 1357.6,883.8 1358.9,884.0 1360.2,884.2 1361.5,884.9 1362.8,883.7 1364.1,884.5 1365.4,885.0 1366.7,886.5 1368.0,885.2 1369.3,882.3 1370.6,883.7 1371.9,883.7 1373.2,884.3 1374.5,885.5 1375.8,884.5 1377.1,881.7 1378.4,883.9 1379.7,883.5 1381.0,883.7 1382.3,884.6 1383.6,882.0 1384.9,884.1 1386.2,881.2 1387.5,882.9 1388.8,883.1 1390.1,884.6 1391.4,881.9 1392.7,880.9 1394.0,883.2 1395.3,881.8 1396.6,884.1 1397.9,881.8 1399.2,881.7 1400.5,883.8 1401.8,882.7 1403.1,883.7 1404.4,881.3 1405.7,884.4 1407.0,882.3 1408.3,883.7 1409.6,882.0 1410.9,881.6 1412.2,882.9 1413.5,883.5 1414.8,885.0 1416.1,883.9 1417.4,884.3 1418.7,884.4 1420.0,885.9 1421.3,883.2 1422.6,885.3 1423.9,884.1 1425.2,884.6 1426.5,883.9 1427.8,885.7 1429.1,883.4 1430.4,883.5 1431.7,884.7 1433.0,883.9 1434.3,885.9 1435.6,886.2 1436.9,884.6 1438.2,886.2 1439.5,884.9 1440.8,885.6 1442.1,885.7 1443.4,887.7 1444.7,885.9 1446.0,885.0 1447.3,885.1 1448.6,887.2 1449.9,884.4 1451.2,885.7 1452.5,885.8 1453.8,884.2 1455.1,885.8 1456.4,887.3 1457.7,886.6 1459.0,885.5 1460.3,887.2 1461.6,887.0 1462.9,888.5 1464.2,885.8 1465.5,886.2 1466.8,886.7 1468.1,886.6 1469.4,886.8 1470.7,886.7 1472.0,886.1 1473.3,885.2 1474.6,886.3 1475.9,885.5 1477.2,885.9 1478.5,886.4 1479.8,887.5 1481.1,887.9 1482.4,886.0 1483.7,887.4 1485.0,887.9 1486.3,887.1 1487.6,885.6 1488.9,885.2 1490.2,888.0 1491.5,888.2 1492.8,887.6 1494.1,886.3 1495.4,888.8 1496.7,888.6 1498.0,887.4 1499.3,887.2 1500.6,885.5 1501.9,888.3 1503.2,885.9 1504.5,888.2 1505.8,888.3 1507.1,887.7 1508.4,889.2 1509.7,887.4 1511.0,888.3 1512.3,888.5 1513.6,888.0 1514.9,887.4 1516.2,889.1 1517.5,888.3 1518.8,887.7 1520.1,887.8 1521.4,888.1 1522.7,890.0 1524.0,888.1 1525.3,887.8 1526.6,887.0 1527.9,886.9 1529.2,886.3 1530.5,888.4 1531.8,888.3 1533.1,887.2 1534.4,886.8 1535.7,888.0 1537.0,887.8 1538.3,887.1 1539.6,888.7 1540.9,888.6 1542.2,888.5 1543.5,889.3 1544.8,887.9 1546.1,890.0 1547.4,887.6 1548.7,889.2 1550.0,889.4 1551.3,888.5 1552.6,889.1 1553.9,887.5 1555.2,887.4 1556.5,888.7 1557.8,888.2 1559.1,889.6 1560.4,889.0 1561.7,889.7 1563.0,889.4 1564.3,889.3 1565.6,889.3 1566.9,888.8 1568.2,888.8 1569.5,891.3 1570.8,887.5 1572.1,889.2 1573.4,890.4 1574.7,889.8 1576.0,890.9 1577.3,890.0 1578.6,888.3 1579.9,889.2 1581.2,888.2 1582.5,890.6 1583.8,891.1 1585.1,889.3 1586.4,890.3 1587.7,889.4 1589.0,888.4 1590.3,889.4 1591.6,888.3 1592.9,889.4 1594.2,890.2 1595.5,890.7 1596.8,891.3 1598.1,889.8 1599.4,890.4 1600.7,890.6 1602.0,890.8 1603.3,888.3 1604.6,889.5 1605.9,891.1 1607.2,889.2 1608.5,890.6 1609.8,891.3 1611.1,888.6 1612.4,890.3 1613.7,890.8 1615.0,890.6 1616.3,889.1 1617.6,891.0 1618.9,890.1 1620.2,891.5 1621.5,891.2 1622.8,890.2 1624.1,891.0 1625.4,890.2 1626.7,890.2 1628.0,889.4 1629.3,890.7 1630.6,891.8 1631.9,891.2 1633.2,891.1 1634.3,890.5" stroke="#f00" stroke-width="7.8"/>
<polyline points="152.5,467.7 153.8,463.8 155.1,466.4 156.4,465.5 157.7,465.8 159.0,466.1 160.3,464.5 161.6,466.4 162.9,465.9 164.2,468.9 165.5,467.3 166.8,466.9 168.1,467.1 169.4,467.0 170.7,466.8 172.0,467.6 173.3,468.7 174.6,468.2 175.9,469.6 177.2,468.6 178.5,469.0 179.8,470.7 181.1,469.8 182.4,468.9 183.7,469.4 185.0,470.2 186.3,471.7 187.6,469.5 188.9,469.6 190.2,471.0 191.5,469.1 192.8,469.8 194.1,471.0 195.4,470.8 196.7,470.3 198.0,470.9 199.3,468.3 200.6,471.3 201.9,469.2 203.2,468.2 204.5,469.7 205.8,469.7 207.1,467.9 208.4,466.7 209.7,467.2 211.0,466.6 212.3,467.5 213.6,466.4 214.9,465.5 216.2,466.0 217.5,464.2 218.8,463.1 220.1,464.2 221.4,463.8 222.7,462.7 224.0,461.8 225.3,462.7 226.6,460.4 227.9,463.1 229.2,463.0 230.5,461.0 231.8,462.9 233.1,462.0 234.4,464.0 235.7,461.4 237.0,462.7 238.3,464.6 239.6,465.5 240.9,462.7 242.2,464.7 243.5,466.1 244.8,465.7 246.1,468.4 247.4,466.1 248.7,468.1 250.0,467.1 251.3,469.9 252.6,468.8 253.9,468.8 255.2,467.8 256.5,471.5 257.8,470.9 259.1,471.2 260.4,471.8 261.7,471.3 263.0,470.6 264.3,470.7 265.6,470.9 266.9,473.2 268.2,470.6 269.5,471.6 270.8,472.0 272.1,472.7 273.4,473.2 274.7,471.5 276.0,471.2 277.3,473.0 278.6,474.4 279.9,474.0 281.2,473.6 282.5,473.2 283.8,473.9 285.1,473.4 286.4,474.6 287.7,473.0 289.0,474.0 290.3,473.8 291.6,474.5 292.9,474.2 294.2,476.0 295.5,475.5 296.8,475.5 298.1,471.9 299.4,473.5 300.7,473.2 302.0,474.3 303.3,471.6 304.6,474.7 305.9,474.5 307.2,472.0 308.5,472.2 309.8,472.2 311.1,472.9 312.4,473.4 313.7,474.6 315.0,472.3 316.3,473.1 317.6,472.2 318.9,473.5 320.2,472.2 321.5,472.3 322.8,469.4 324.1,469.8 325.4,468.7 326.7,470.6 328.0,469.3 329.3,468.0 330.6,467.5 331.9,468.3 333.2,467.0 334.5,466.8 335.8,468.3 337.1,470.0 338.4,467.9 339.7,467.9 341.0,467.5 342.3,467.6 343.6,469.8 344.9,470.5 346.2,470.1 347.5,470.9 348.8,471.2 350.1,471.8 351.4,470.6 352.7,472.2 354.0,473.2 355.3,472.7 356.6,473.3 357.9,473.3 359.2,474.0 360.5,475.5 361.8,474.4 363.1,474.7 364.4,475.7 365.7,475.5 367.0,476.5 368.3,472.7 369.6,475.4 370.9,473.9 372.2,474.4 373.5,474.9 374.8,474.9 376.1,474.7 377.4,473.6 378.7,474.8 380.0,472.7 381.3,472.7 382.6,473.4 383.9,471.9 385.2,474.3 386.5,473.2 387.8,474.1 389.1,472.0 390.4,471.5 391.7,472.0 393.0,472.5 394.3,471.0 395.6,471.9 396.9,471.5 398.2,473.0 399.5,470.7 400.8,472.3 402.1,470.5 403.4,470.2 404.7,470.3 406.0,469.8 407.3,471.0 408.6,471.8 409.9,470.9 411.2,471.2 412.5,472.1 413.8,470.7 415.1,470.5 416.4,469.9 417.7,468.5 419.0,470.7 420.3,468.1 421.6,470.4 422.9,469.6 424.2,470.6 425.5,469.3 426.8,468.4 428.1,469.4 429.4,468.4 430.7,468.6 432.0,468.7 433.3,468.4 434.6,468.2 435.9,467.4 437.2,467.9 438.5,466.0 439.8,467.7 441.1,466.5 442.4,468.6 443.7,468.6 445.0,465.3 446.3,467.2 447.6,466.8 448.9,465.7 450.2,467.2 451.5,466.0 452.8,464.6 454.1,465.9 455.4,465.8 456.7,465.9 458.0,464.4 459.3,466.1 460.6,466.0 461.9,464.0 463.2,464.3 464.5,464.7 465.8,464.0 467.1,466.1 468.4,464.3 469.7,462.9 471.0,462.9 472.3,463.4 473.6,465.2 474.9,462.8 476.2,462.9 477.5,463.0 478.8,462.2 480.1,464.0 481.4,461.2 482.7,462.2 484.0,461.3 485.3,461.5 486.6,459.4 487.9,462.0 489.2,459.8 490.5,459.7 491.8,458.4 493.1,458.2 494.4,459.2 495.7,459.2 497.0,458.6 498.3,458.7 499.6,457.8 500.9,456.7 502.2,457.1 503.5,456.4 504.8,455.2 506.1,455.6 507.4,455.7 508.7,454.2 510.0,453.1 511.3,453.7 512.6,454.3 513.9,451.7 515.2,451.3 516.5,450.7 517.8,451.5 519.1,447.8 520.4,449.4 521.7,449.6 523.0,447.0 524.3,448.7 525.6,447.1 526.9,445.3 528.2,445.4 529.5,442.9 530.8,443.2 532.1,444.9 533.4,441.5 534.7,443.5 536.0,440.8 537.3,441.2 538.6,439.5 539.9,436.6 541.2,437.3 542.5,437.2 543.8,434.9 545.1,433.8 546.4,434.5 547.7,432.4 549.0,430.2 550.3,430.1 551.6,430.4 552.9,427.8 554.2,427.9 555.5,427.3 556.8,424.5 558.1,422.1 559.4,420.7 560.7,420.7 562.0,420.4 563.3,418.5 564.6,417.4 565.9,414.9 567.2,414.2 568.5,412.0 569.8,410.5 571.1,407.8 572.4,405.5 573.7,404.2 575.0,400.4 576.3,396.5 577.6,393.6 578.9,388.0 580.2,384.5 581.5,376.8 582.8,366.8 584.1,358.3 585.4,348.4 586.7,339.3 588.0,336.9 589.3,333.4 590.6,332.3 591.9,333.3 593.2,335.2 594.5,339.6 595.8,341.8 597.1,346.9 598.4,354.6 599.7,355.4 601.0,359.6 602.3,362.5 603.6,360.9 604.9,358.9 606.2,356.6 607.5,355.1 608.8,351.8 610.1,351.4 611.4,349.6 612.7,348.7 614.0,347.7 615.3,347.6 616.6,348.7 617.9,348.6 619.2,350.1 620.5,351.0 621.8,353.4 623.1,354.4 624.4,358.7 625.7,360.6 627.0,365.3 628.3,371.5 629.6,373.2 630.9,377.0 632.2,380.1 633.5,385.3 634.8,388.2 636.1,390.0 637.4,394.8 638.7,397.3 640.0,400.6 641.3,401.9 642.6,406.9 643.9,408.1 645.2,410.0 646.5,411.8 647.8,414.1 649.1,417.1 650.4,417.7 651.7,420.7 653.0,421.8 654.3,424.1 655.6,425.1 656.9,425.6 658.2,425.1 659.5,428.6 660.8,430.3 662.1,430.9 663.4,432.5 664.7,432.6 666.0,433.8 667.3,434.3 668.6,437.6 669.9,437.4 671.2,437.8 672.5,437.9 673.8,440.0 675.1,442.5 676.4,442.4 677.7,442.2 679.0,445.3 680.3,446.2 681.6,446.6 682.9,447.3 684.2,448.5 685.5,448.6 686.8,449.6 688.1,448.7 689.4,451.6 690.7,450.8 692.0,453.0 693.3,449.4 694.6,452.5 695.9,453.1 697.2,452.1 698.5,453.2 699.8,453.8 701.1,453.9 702.4,453.0 703.7,453.6 705.0,455.0 706.3,455.5 707.6,454.6 708.9,454.7 710.2,455.1 711.5,456.1 712.8,454.2 714.1,454.2 715.4,455.9 716.7,454.8 718.0,455.6 719.3,456.5 720.6,457.1 721.9,455.8 723.2,457.8 724.5,455.5 725.8,458.0 727.1,456.1 728.4,456.6 729.7,458.7 731.0,457.8 732.3,457.6 733.6,458.2 734.9,459.2 736.2,458.9 737.5,459.1 738.8,460.3 740.1,458.7 741.4,459.1 742.7,459.2 744.0,461.1 745.3,461.0 746.6,461.5 747.9,460.3 749.2,460.3 750.5,461.5 751.8,460.4 753.1,461.7 754.4,461.8 755.7,460.5 757.0,461.2 758.3,461.3 759.6,463.2 760.9,463.6 762.2,461.6 763.5,461.8 764.8,459.9 766.1,462.2 767.4,462.0 768.7,461.0 770.0,463.0 771.3,460.7 772.6,462.1 773.9,462.5 775.2,461.2 776.5,463.4 777.8,463.6 779.1,461.2 780.4,461.3 781.7,463.3 783.0,462.8 784.3,461.6 785.6,462.6 786.9,462.9 788.2,462.9 789.5,463.9 790.8,463.5 792.1,464.9 793.4,464.6 794.7,463.9 796.0,464.4 797.3,464.7 798.6,464.1 799.9,462.2 801.2,464.3 802.5,463.6 803.8,465.2 805.1,463.7 806.4,464.2 807.7,464.0 809.0,465.4 810.3,464.0 811.6,463.6 812.9,464.2 814.2,463.6 815.5,464.2 816.8,464.1 818.1,464.5 819.4,466.3 820.7,464.1 822.0,464.6 823.3,464.6 824.6,465.6 825.9,464.0 827.2,464.6 828.5,465.5 829.8,466.3 831.1,466.0 832.4,465.7 833.7,465.6 835.0,467.2 836.3,468.4 837.6,467.5 838.9,467.6 840.2,468.1 841.5,466.9 842.8,467.8 844.1,468.0 845.4,468.8 846.7,468.6 848.0,467.6 849.3,470.1 850.6,470.8 851.9,469.0 853.2,469.8 854.5,469.8 855.8,470.4 857.1,468.3 858.4,471.5 859.7,469.5 861.0,471.4 862.3,470.3 863.6,470.0 864.9,470.4 866.2,471.5 867.5,469.9 868.8,470.5 870.1,470.5 871.4,469.4 872.7,472.5 874.0,471.9 875.3,471.4 876.6,472.6 877.9,470.6 879.2,471.6 880.5,473.5 881.8,472.9 883.1,470.0 884.4,470.1 885.7,471.1 887.0,473.3 888.3,471.8 889.6,472.2 890.9,473.1 892.2,471.7 893.5,472.9 894.8,473.5 896.1,473.3 897.4,473.3 898.7,472.4 900.0,473.5 901.3,472.7 902.6,474.5 903.9,475.3 905.2,472.6 906.5,471.4 907.8,473.1 909.1,473.9 910.4,474.7 911.7,474.8 913.0,473.0 914.3,473.0 915.6,475.1 916.9,472.9 918.2,475.1 919.5,473.8 920.8,474.9 922.1,474.9 923.4,475.0 924.7,475.1 926.0,473.3 927.3,474.7 928.6,474.4 929.9,474.8 931.2,475.7 932.5,474.3 933.8,473.9 935.1,473.9 936.4,474.3 937.7,475.4 939.0,473.9 940.3,475.9 941.6,475.1 942.9,474.6 944.2,473.5 945.5,475.1 946.8,475.6 948.1,473.2 949.4,476.2 950.7,476.7 952.0,475.4 953.3,475.6 954.6,477.1 955.9,476.4 957.2,474.3 958.5,475.2 959.8,475.1 961.1,475.1 962.4,473.3 963.7,476.0 965.0,474.7 966.3,475.5 967.6,475.2 968.9,476.2 970.2,475.1 971.5,474.6 972.8,475.9 974.1,476.8 975.4,475.1 976.7,476.8 978.0,475.7 979.3,474.9 980.6,476.9 981.9,474.6 983.2,476.4 984.5,474.8 985.8,475.8 987.1,474.0 988.4,474.4 989.7,476.3 991.0,475.4 992.3,475.2 993.6,474.6 994.9,475.5 996.2,473.6 997.5,473.8 998.8,474.7 1000.1,473.9 1001.4,474.0 1002.7,474.6 1004.0,474.4 1005.3,474.1 1006.6,475.7 1007.9,474.7 1009.2,474.4 1010.5,472.7 1011.8,471.7 1013.1,470.1 1014.4,470.7 1015.7,468.4 1017.0,469.3 1018.3,470.2 1019.6,470.6 1020.9,469.3 1022.2,467.8 1023.5,468.2 1024.8,468.0 1026.1,468.3 1027.4,468.3 1028.7,469.4 1030.0,471.3 1031.3,470.8 1032.6,472.5 1033.9,471.3 1035.2,471.3 1036.5,473.5 1037.8,474.4 1039.1,472.4 1040.4,473.2 1041.7,471.7 1043.0,472.9 1044.3,474.0 1045.6,473.0 1046.9,472.5 1048.2,471.6 1049.5,473.4 1050.8,473.7 1052.1,473.5 1053.4,473.1 1054.7,471.6 1056.0,474.5 1057.3,472.7 1058.6,472.5 1059.9,473.4 1061.2,470.6 1062.5,472.5 1063.8,472.4 1065.1,472.8 1066.4,473.7 1067.7,472.7 1069.0,470.3 1070.3,471.7 1071.6,472.1 1072.9,472.0 1074.2,470.4 1075.5,469.9 1076.8,471.9 1078.1,471.6 1079.4,471.1 1080.7,469.2 1082.0,472.6 1083.3,468.7 1084.6,470.2 1085.9,472.4 1087.2,470.1 1088.5,470.4 1089.8,468.9 1091.1,471.3 1092.4,468.6 1093.7,470.1 1095.0,469.9 1096.3,468.7 1097.6,470.6 1098.9,468.3 1100.2,469.1 1101.5,469.8 1102.8,469.6 1104.1,470.6 1105.4,471.3 1106.7,470.3 1108.0,470.3 1109.3,470.6 1110.6,471.0 1111.9,472.5 1113.2,471.8 1114.5,472.7 1115.8,472.5 1117.1,472.0 1118.4,474.0 1119.7,472.4 1121.0,473.7 1122.3,475.4 1123.6,473.0 1124.9,474.2 1126.2,472.8 1127.5,474.0 1128.8,473.1 1130.1,474.2 1131.4,474.1 1132.7,474.7 1134.0,476.2 1135.3,474.9 1136.6,475.2 1137.9,474.5 1139.2,474.3 1140.5,473.7 1141.8,472.7 1143.1,474.5 1144.4,476.1 1145.7,474.9 1147.0,473.8 1148.3,476.0 1149.6,473.9 1150.9,473.6 1152.2,473.0 1153.5,473.2 1154.8,473.9 1156.1,476.1 1157.4,473.8 1158.7,472.9 1160.0,473.3 1161.3,473.6 1162.6,471.9 1163.9,473.5 1165.2,473.8 1166.5,473.1 1167.8,473.0 1169.1,470.7 1170.4,469.8 1171.7,472.4 1173.0,471.8 1174.3,468.7 1175.6,470.1 1176.9,469.6 1178.2,469.8 1179.5,469.2 1180.8,468.6 1182.1,468.8 1183.4,468.7 1184.7,468.7 1186.0,467.8 1187.3,467.3 1188.6,468.4 1189.9,467.9 1191.2,470.0 1192.5,470.8 1193.8,470.7 1195.1,470.4 1196.4,471.3 1197.7,472.8 1199.0,471.3 1200.3,473.3 1201.6,473.5 1202.9,473.4 1204.2,475.0 1205.5,473.1 1206.8,475.1 1208.1,473.5 1209.4,473.9 1210.7,473.8 1212.0,475.5 1213.3,474.2 1214.6,475.3 1215.9,474.3 1217.2,476.6 1218.5,477.5 1219.8,476.0 1221.1,477.5 1222.4,476.5 1223.7,478.1 1225.0,476.3 1226.3,474.7 1227.6,477.9 1228.9,476.3 1230.2,475.5 1231.5,476.0 1232.8,475.1 1234.1,476.6 1235.4,475.8 1236.7,478.5 1238.0,477.7 1239.3,475.5 1240.6,475.7 1241.9,476.7 1243.2,475.4 1244.5,477.3 1245.8,477.4 1247.1,476.8 1248.4,477.1 1249.7,478.2 1251.0,479.2 1252.3,479.3 1253.6,477.9 1254.9,478.8 1256.2,477.2 1257.5,478.5 1258.8,477.1 1260.1,478.9 1261.4,477.0 1262.7,477.3 1264.0,478.3 1265.3,478.9 1266.6,477.0 1267.9,478.0 1269.2,478.7 1270.5,478.8 1271.8,477.8 1273.1,478.8 1274.4,478.5 1275.7,480.2 1277.0,479.4 1278.3,477.6 1279.6,477.0 1280.9,479.2 1282.2,480.3 1283.5,479.4 1284.8,480.1 1286.1,478.8 1287.4,478.0 1288.7,480.2 1290.0,479.6 1291.3,480.2 1292.6,478.2 1293.9,479.9 1295.2,479.1 1296.5,480.6 1297.8,479.3 1299.1,479.3 1300.4,479.4 1301.7,481.3 1303.0,480.1 1304.3,479.4 1305.6,479.2 1306.9,479.2 1308.2,481.8 1309.5,478.5 1310.8,479.5 1312.1,481.1 1313.4,481.6 1314.7,480.4 1316.0,481.3 1317.3,481.3 1318.6,481.6 1319.9,480.7 1321.2,482.3 1322.5,480.9 1323.8,482.3 1325.1,479.7 1326.4,481.7 1327.7,479.5 1329.0,479.3 1330.3,481.3 1331.6,480.0 1332.9,481.3 1334.2,479.8 1335.5,482.4 1336.8,480.8 1338.1,479.7 1339.4,480.9 1340.7,481.6 1342.0,479.9 1343.3,481.2 1344.6,482.6 1345.9,481.4 1347.2,480.5 1348.5,479.9 1349.8,481.0 1351.1,478.8 1352.4,478.2 1353.7,479.6 1355.0,479.1 1356.3,481.9 1357.6,480.2 1358.9,479.0 1360.2,478.7 1361.5,480.3 1362.8,478.9 1364.1,479.1 1365.4,479.6 1366.7,479.7 1368.0,479.6 1369.3,479.6 1370.6,480.7 1371.9,481.0 1373.2,477.6 1374.5,481.2 1375.8,479.3 1377.1,480.4 1378.4,478.3 1379.7,479.4 1381.0,479.2 1382.3,479.1 1383.6,479.8 1384.9,479.6 1386.2,477.9 1387.5,478.8 1388.8,479.6 1390.1,479.6 1391.4,478.5 1392.7,478.6 1394.0,478.7 1395.3,477.8 1396.6,477.7 1397.9,480.5 1399.2,478.6 1400.5,479.1 1401.8,478.3 1403.1,480.4 1404.4,480.9 1405.7,479.0 1407.0,479.8 1408.3,478.6 1409.6,481.2 1410.9,480.4 1412.2,478.7 1413.5,480.8 1414.8,480.0 1416.1,480.1 1417.4,480.2 1418.7,479.2 1420.0,479.4 1421.3,480.6 1422.6,480.0 1423.9,479.2 1425.2,482.2 1426.5,480.1 1427.8,479.8 1429.1,479.7 1430.4,481.2 1431.7,481.5 1433.0,480.9 1434.3,481.6 1435.6,479.3 1436.9,480.4 1438.2,480.4 1439.5,480.9 1440.8,481.5 1442.1,479.0 1443.4,483.0 1444.7,480.2 1446.0,481.5 1447.3,482.0 1448.6,482.0 1449.9,481.5 1451.2,479.2 1452.5,480.2 1453.8,482.0 1455.1,480.4 1456.4,480.3 1457.7,479.3 1459.0,482.6 1460.3,481.9 1461.6,480.5 1462.9,481.3 1464.2,481.4 1465.5,480.4 1466.8,481.3 1468.1,481.8 1469.4,482.1 1470.7,482.9 1472.0,481.6 1473.3,481.2 1474.6,482.1 1475.9,481.1 1477.2,480.5 1478.5,482.9 1479.8,481.4 1481.1,481.9 1482.4,482.4 1483.7,480.7 1485.0,482.5 1486.3,482.3 1487.6,481.8 1488.9,482.3 1490.2,481.1 1491.5,479.9 1492.8,481.7 1494.1,481.0 1495.4,482.8 1496.7,482.3 1498.0,481.5 1499.3,482.1 1500.6,483.4 1501.9,483.2 1503.2,482.4 1504.5,482.5 1505.8,481.8 1507.1,482.0 1508.4,482.7 1509.7,482.0 1511.0,482.5 1512.3,481.1 1513.6,480.5 1514.9,480.5 1516.2,481.8 1517.5,483.5 1518.8,483.4 1520.1,481.2 1521.4,480.7 1522.7,483.1 1524.0,482.7 1525.3,480.9 1526.6,483.3 1527.9,482.5 1529.2,483.6 1530.5,482.6 1531.8,483.2 1533.1,482.6 1534.4,481.4 1535.7,482.1 1537.0,481.6 1538.3,483.2 1539.6,481.3 1540.9,480.8 1542.2,483.0 1543.5,483.5 1544.8,483.8 1546.1,483.4 1547.4,480.9 1548.7,481.7 1550.0,481.8 1551.3,482.3 1552.6,480.4 1553.9,482.4 1555.2,482.7 1556.5,481.4 1557.8,482.5 1559.1,483.6 1560.4,482.4 1561.7,483.5 1563.0,483.4 1564.3,482.8 1565.6,482.8 1566.9,482.0 1568.2,483.7 1569.5,482.0 1570.8,481.7 1572.1,483.1 1573.4,481.7 1574.7,482.9 1576.0,483.5 1577.3,482.5 1578.6,482.6 1579.9,483.4 1581.2,483.2 1582.5,480.9 1583.8,481.1 1585.1,483.8 1586.4,482.9 1587.7,480.5 1589.0,481.1 1590.3,482.5 1591.6,481.5 1592.9,482.9 1594.2,482.6 1595.5,483.0 1596.8,481.3 1598.1,483.1 1599.4,484.5 1600.7,481.7 1602.0,483.8 1603.3,483.5 1604.6,483.1 1605.9,482.4 1607.2,481.3 1608.5,481.6 1609.8,483.3 1611.1,483.5 1612.4,483.7 1613.7,483.5 1615.0,483.4 1616.3,482.1 1617.6,481.3 1618.9,482.7 1620.2,483.0 1621.5,482.6 1622.8,481.0 1624.1,482.0 1625.4,481.0 1626.7,482.7 1628.0,481.5 1629.3,482.4 1630.6,482.8 1631.9,482.7 1633.2,483.9 1634.3,481.4" stroke="#00f" stroke-width="7.8"/>
<polyline points="152.5,281.6 153.8,281.9 155.1,283.5 156.4,282.3 157.7,280.0 159.0,281.6 160.3,281.1 161.6,282.0 162.9,280.5 164.2,282.6 165.5,282.9 166.8,284.5 168.1,283.5 169.4,283.9 170.7,282.1 172.0,285.6 173.3,281.8 174.6,284.8 175.9,283.4 177.2,282.9 178.5,283.2 179.8,283.2 181.1,284.3 182.4,283.8 183.7,285.5 185.0,282.2 186.3,284.1 187.6,283.2 188.9,285.0 190.2,282.3 191.5,284.0 192.8,284.6 194.1,282.9 195.4,285.5 196.7,284.7 198.0,285.5 199.3,285.2 200.6,282.7 201.9,282.2 203.2,282.0 204.5,282.2 205.8,281.3 207.1,278.4 208.4,277.1 209.7,275.4 211.0,274.4 212.3,273.8 213.6,273.6 214.9,275.6 216.2,273.0 217.5,273.1 218.8,273.8 220.1,272.3 221.4,272.8 222.7,273.2 224.0,273.9 225.3,271.8 226.6,274.5 227.9,272.8 229.2,273.4 230.5,274.2 231.8,274.2 233.1,274.8 234.4,274.2 235.7,274.3 237.0,275.3 238.3,275.4 239.6,279.4 240.9,279.1 242.2,280.1 243.5,284.4 244.8,283.3 246.1,283.2 247.4,287.1 248.7,285.5 250.0,287.2 251.3,285.4 252.6,285.9 253.9,284.5 255.2,284.2 256.5,285.1 257.8,286.0 259.1,286.8 260.4,288.0 261.7,284.9 263.0,286.9 264.3,285.3 265.6,285.7 266.9,284.3 268.2,284.3 269.5,284.9 270.8,284.5 272.1,285.6 273.4,284.9 274.7,286.9 276.0,285.8 277.3,285.8 278.6,286.8 279.9,286.2 281.2,285.7 282.5,285.7 283.8,285.7 285.1,287.0 286.4,286.8 287.7,286.5 289.0,287.0 290.3,285.7 291.6,286.9 292.9,285.1 294.2,287.9 295.5,286.7 296.8,286.9 298.1,287.4 299.4,286.8 300.7,286.6 302.0,288.1 303.3,287.0 304.6,285.8 305.9,286.8 307.2,284.0 308.5,286.6 309.8,283.9 311.1,283.2 312.4,284.2 313.7,283.3 315.0,280.5 316.3,280.2 317.6,279.8 318.9,279.4 320.2,276.6 321.5,276.0 322.8,276.5 324.1,275.3 325.4,275.8 326.7,275.7 328.0,274.2 329.3,274.7 330.6,273.8 331.9,275.8 333.2,277.7 334.5,275.6 335.8,278.6 337.1,279.1 338.4,278.8 339.7,279.7 341.0,280.7 342.3,280.6 343.6,281.9 344.9,283.0 346.2,284.6 347.5,285.7 348.8,285.0 350.1,287.2 351.4,286.0 352.7,286.9 354.0,287.7 355.3,287.5 356.6,287.6 357.9,288.1 359.2,287.4 360.5,287.4 361.8,288.0 363.1,289.2 364.4,288.1 365.7,290.1 367.0,288.4 368.3,286.1 369.6,287.7 370.9,289.7 372.2,288.0 373.5,287.5 374.8,287.0 376.1,289.1 377.4,288.7 378.7,288.3 380.0,288.0 381.3,288.9 382.6,288.2 383.9,286.1 385.2,288.0 386.5,287.4 387.8,287.0 389.1,287.8 390.4,287.0 391.7,284.9 393.0,288.3 394.3,287.7 395.6,286.5 396.9,286.1 398.2,286.6 399.5,285.0 400.8,286.5 402.1,285.9 403.4,285.6 404.7,285.0 406.0,285.1 407.3,286.8 408.6,286.9 409.9,285.9 411.2,285.3 412.5,284.3 413.8,285.8 415.1,286.6 416.4,283.3 417.7,285.9 419.0,282.6 420.3,284.2 421.6,284.8 422.9,282.9 424.2,282.6 425.5,284.2 426.8,284.7 428.1,283.2 429.4,284.9 430.7,282.7 432.0,285.1 433.3,283.3 434.6,283.3 435.9,283.5 437.2,283.1 438.5,284.5 439.8,284.5 441.1,282.9 442.4,282.1 443.7,281.0 445.0,281.3 446.3,281.9 447.6,281.7 448.9,281.6 450.2,281.5 451.5,281.9 452.8,279.9 454.1,280.1 455.4,282.2 456.7,281.7 458.0,280.2 459.3,281.9 460.6,279.8 461.9,280.1 463.2,278.3 464.5,280.9 465.8,279.8 467.1,280.7 468.4,280.2 469.7,279.4 471.0,279.3 472.3,280.2 473.6,278.6 474.9,278.4 476.2,278.4 477.5,279.0 478.8,278.9 480.1,279.7 481.4,277.4 482.7,278.5 484.0,276.4 485.3,277.4 486.6,276.6 487.9,278.0 489.2,276.6 490.5,275.2 491.8,275.9 493.1,275.4 494.4,274.3 495.7,273.9 497.0,272.8 498.3,275.2 499.6,272.9 500.9,273.3 502.2,270.6 503.5,270.2 504.8,270.6 506.1,270.2 507.4,270.6 508.7,268.3 510.0,269.4 511.3,269.9 512.6,267.0 513.9,268.3 515.2,265.9 516.5,266.6 517.8,266.1 519.1,266.8 520.4,263.7 521.7,263.8 523.0,264.0 524.3,261.0 525.6,261.4 526.9,259.7 528.2,259.2 529.5,259.8 530.8,259.2 532.1,259.8 533.4,258.7 534.7,258.1 536.0,256.2 537.3,255.6 538.6,255.6 539.9,253.0 541.2,256.2 542.5,253.3 543.8,252.3 545.1,252.1 546.4,252.6 547.7,252.0 549.0,249.3 550.3,249.0 551.6,247.3 552.9,245.1 554.2,245.1 555.5,243.8 556.8,241.1 558.1,242.8 559.4,239.2 560.7,240.2 562.0,238.1 563.3,237.4 564.6,236.6 565.9,237.0 567.2,233.9 568.5,233.5 569.8,233.5 571.1,229.4 572.4,228.2 573.7,226.5 575.0,221.0 576.3,207.3 577.6,195.3 578.9,186.5 580.2,169.5 581.5,139.8 582.8,115.8 584.1,96.4 585.4,85.0 586.7,80.7 588.0,78.4 589.3,77.4 590.6,80.2 591.9,87.6 593.2,93.0 594.5,102.0 595.8,110.2 597.1,109.8 598.4,109.8 599.7,110.5 601.0,108.5 602.3,106.7 603.6,101.4 604.9,97.1 606.2,89.1 607.5,79.2 608.8,79.0 610.1,76.7 611.4,78.6 612.7,78.1 614.0,80.4 615.3,88.1 616.6,92.5 617.9,98.5 619.2,100.5 620.5,103.7 621.8,109.9 623.1,116.4 624.4,125.1 625.7,132.9 627.0,140.3 628.3,151.5 629.6,157.0 630.9,164.0 632.2,172.2 633.5,176.7 634.8,187.4 636.1,194.1 637.4,198.0 638.7,203.7 640.0,205.0 641.3,210.3 642.6,214.1 643.9,213.8 645.2,216.7 646.5,220.1 647.8,222.2 649.1,223.3 650.4,225.9 651.7,227.4 653.0,227.2 654.3,229.8 655.6,229.8 656.9,230.3 658.2,231.4 659.5,235.3 660.8,235.2 662.1,238.4 663.4,236.2 664.7,238.5 666.0,240.6 667.3,241.8 668.6,244.3 669.9,245.9 671.2,247.2 672.5,247.9 673.8,250.6 675.1,254.8 676.4,255.0 677.7,256.6 679.0,255.6 680.3,256.9 681.6,257.0 682.9,259.1 684.2,259.5 685.5,260.5 686.8,262.5 688.1,260.4 689.4,262.5 690.7,260.7 692.0,263.6 693.3,262.4 694.6,263.0 695.9,263.5 697.2,265.2 698.5,263.7 699.8,263.5 701.1,263.0 702.4,264.6 703.7,263.6 705.0,264.1 706.3,264.8 707.6,265.6 708.9,264.4 710.2,265.9 711.5,267.2 712.8,264.1 714.1,267.2 715.4,268.1 716.7,265.6 718.0,267.1 719.3,265.3 720.6,267.3 721.9,266.9 723.2,267.8 724.5,266.8 725.8,267.2 727.1,267.8 728.4,267.8 729.7,268.2 731.0,268.9 732.3,268.2 733.6,269.5 734.9,270.4 736.2,268.3 737.5,270.6 738.8,269.9 740.1,269.8 741.4,269.8 742.7,270.6 744.0,270.9 745.3,272.3 746.6,271.0 747.9,273.5 749.2,271.9 750.5,273.7 751.8,274.4 753.1,272.3 754.4,274.9 755.7,276.2 757.0,273.8 758.3,275.1 759.6,274.6 760.9,275.0 762.2,274.9 763.5,274.7 764.8,276.1 766.1,276.3 767.4,275.6 768.7,277.2 770.0,276.9 771.3,276.6 772.6,275.2 773.9,277.9 775.2,277.4 776.5,274.2 777.8,275.2 779.1,275.9 780.4,277.3 781.7,277.7 783.0,276.3 784.3,276.9 785.6,277.4 786.9,275.5 788.2,277.4 789.5,276.6 790.8,277.2 792.1,277.0 793.4,276.0 794.7,276.2 796.0,277.3 797.3,277.5 798.6,277.2 799.9,278.6 801.2,277.3 802.5,276.5 803.8,277.4 805.1,277.7 806.4,277.8 807.7,279.1 809.0,278.5 810.3,279.1 811.6,278.7 812.9,278.0 814.2,279.2 815.5,277.9 816.8,278.4 818.1,277.2 819.4,278.3 820.7,277.9 822.0,278.5 823.3,279.9 824.6,280.1 825.9,279.1 827.2,278.0 828.5,278.8 829.8,278.2 831.1,277.3 832.4,277.8 833.7,277.5 835.0,277.1 836.3,279.1 837.6,277.1 838.9,277.1 840.2,278.2 841.5,276.8 842.8,276.3 844.1,276.6 845.4,277.9 846.7,277.8 848.0,277.7 849.3,277.0 850.6,276.6 851.9,278.6 853.2,276.4 854.5,277.9 855.8,277.1 857.1,278.3 858.4,278.9 859.7,280.6 861.0,277.7 862.3,281.5 863.6,279.6 864.9,281.2 866.2,282.1 867.5,280.8 868.8,281.8 870.1,282.7 871.4,282.4 872.7,282.0 874.0,283.1 875.3,283.2 876.6,281.6 877.9,284.5 879.2,283.4 880.5,281.2 881.8,282.4 883.1,285.0 884.4,284.9 885.7,283.6 887.0,281.7 888.3,283.1 889.6,284.4 890.9,283.8 892.2,283.1 893.5,282.7 894.8,284.2 896.1,283.2 897.4,283.8 898.7,283.9 900.0,285.1 901.3,283.7 902.6,283.7 903.9,281.7 905.2,284.6 906.5,284.4 907.8,283.5 909.1,281.5 910.4,283.0 911.7,283.7 913.0,285.6 914.3,284.2 915.6,284.4 916.9,284.5 918.2,285.0 919.5,282.6 920.8,282.9 922.1,282.6 923.4,283.6 924.7,283.6 926.0,284.2 927.3,283.2 928.6,284.4 929.9,283.6 931.2,286.6 932.5,284.2 933.8,286.9 935.1,286.7 936.4,284.0 937.7,286.3 939.0,286.1 940.3,284.1 941.6,286.3 942.9,285.7 944.2,286.2 945.5,285.1 946.8,285.9 948.1,286.4 949.4,285.8 950.7,285.4 952.0,285.9 953.3,285.0 954.6,286.4 955.9,284.0 957.2,287.5 958.5,286.1 959.8,286.5 961.1,286.9 962.4,284.8 963.7,288.0 965.0,284.9 966.3,286.5 967.6,286.4 968.9,287.3 970.2,286.0 971.5,284.6 972.8,286.3 974.1,284.0 975.4,285.8 976.7,285.6 978.0,287.6 979.3,285.7 980.6,285.6 981.9,285.3 983.2,285.2 984.5,285.5 985.8,286.6 987.1,284.7 988.4,285.8 989.7,284.5 991.0,285.8 992.3,286.0 993.6,284.5 994.9,285.0 996.2,285.4 997.5,285.8 998.8,285.7 1000.1,284.3 1001.4,283.1 1002.7,282.1 1004.0,284.1 1005.3,284.2 1006.6,282.7 1007.9,283.5 1009.2,280.9 1010.5,280.4 1011.8,281.9 1013.1,278.5 1014.4,278.8 1015.7,277.0 1017.0,275.0 1018.3,274.7 1019.6,270.6 1020.9,269.7 1022.2,268.5 1023.5,268.7 1024.8,268.9 1026.1,269.6 1027.4,270.7 1028.7,272.5 1030.0,273.1 1031.3,273.3 1032.6,276.9 1033.9,278.5 1035.2,278.0 1036.5,279.1 1037.8,282.0 1039.1,281.2 1040.4,281.3 1041.7,280.9 1043.0,280.3 1044.3,279.7 1045.6,280.8 1046.9,280.0 1048.2,279.8 1049.5,280.2 1050.8,280.1 1052.1,281.1 1053.4,279.2 1054.7,282.2 1056.0,279.2 1057.3,279.8 1058.6,281.1 1059.9,279.4 1061.2,279.7 1062.5,280.2 1063.8,278.2 1065.1,279.7 1066.4,279.1 1067.7,279.7 1069.0,280.3 1070.3,280.2 1071.6,280.9 1072.9,280.6 1074.2,279.9 1075.5,278.5 1076.8,279.3 1078.1,277.0 1079.4,277.6 1080.7,278.9 1082.0,278.0 1083.3,275.4 1084.6,275.9 1085.9,276.9 1087.2,276.2 1088.5,276.2 1089.8,272.9 1091.1,273.0 1092.4,273.6 1093.7,272.6 1095.0,273.3 1096.3,273.1 1097.6,273.4 1098.9,272.9 1100.2,273.7 1101.5,274.0 1102.8,273.5 1104.1,272.3 1105.4,275.1 1106.7,274.2 1108.0,274.7 1109.3,274.8 1110.6,273.3 1111.9,275.8 1113.2,274.8 1114.5,274.6 1115.8,277.4 1117.1,276.2 1118.4,277.2 1119.7,278.4 1121.0,279.7 1122.3,276.8 1123.6,278.5 1124.9,280.6 1126.2,279.8 1127.5,279.1 1128.8,281.8 1130.1,282.3 1131.4,283.3 1132.7,283.1 1134.0,282.6 1135.3,283.3 1136.6,283.1 1137.9,282.6 1139.2,283.3 1140.5,283.3 1141.8,281.8 1143.1,283.7 1144.4,283.3 1145.7,283.1 1147.0,280.1 1148.3,282.1 1149.6,281.7 1150.9,280.5 1152.2,281.8 1153.5,279.3 1154.8,281.7 1156.1,280.3 1157.4,279.0 1158.7,280.5 1160.0,279.2 1161.3,278.7 1162.6,276.7 1163.9,278.2 1165.2,278.7 1166.5,278.0 1167.8,275.2 1169.1,277.6 1170.4,277.4 1171.7,276.4 1173.0,274.8 1174.3,273.4 1175.6,273.9 1176.9,274.2 1178.2,274.6 1179.5,274.5 1180.8,274.3 1182.1,273.8 1183.4,274.5 1184.7,273.8 1186.0,276.8 1187.3,274.6 1188.6,276.8 1189.9,277.7 1191.2,276.4 1192.5,278.9 1193.8,278.4 1195.1,278.2 1196.4,278.6 1197.7,280.2 1199.0,281.6 1200.3,279.0 1201.6,281.9 1202.9,281.4 1204.2,281.0 1205.5,281.8 1206.8,282.1 1208.1,282.3 1209.4,283.3 1210.7,281.8 1212.0,284.8 1213.3,283.9 1214.6,282.6 1215.9,281.4 1217.2,283.4 1218.5,283.2 1219.8,284.5 1221.1,284.6 1222.4,285.9 1223.7,284.0 1225.0,285.0 1226.3,283.9 1227.6,284.1 1228.9,286.1 1230.2,284.6 1231.5,284.7 1232.8,284.6 1234.1,285.3 1235.4,285.7 1236.7,285.1 1238.0,284.2 1239.3,285.8 1240.6,284.7 1241.9,285.3 1243.2,286.0 1244.5,286.1 1245.8,284.0 1247.1,287.8 1248.4,287.0 1249.7,288.3 1251.0,288.4 1252.3,285.6 1253.6,286.1 1254.9,287.0 1256.2,287.8 1257.5,286.5 1258.8,286.8 1260.1,288.3 1261.4,286.4 1262.7,287.6 1264.0,288.6 1265.3,287.4 1266.6,288.5 1267.9,287.7 1269.2,286.4 1270.5,287.5 1271.8,287.9 1273.1,287.9 1274.4,288.4 1275.7,288.8 1277.0,288.8 1278.3,288.8 1279.6,288.3 1280.9,288.6 1282.2,288.5 1283.5,288.4 1284.8,290.5 1286.1,287.3 1287.4,289.5 1288.7,287.7 1290.0,288.8 1291.3,290.3 1292.6,289.3 1293.9,291.0 1295.2,288.7 1296.5,289.4 1297.8,289.2 1299.1,289.9 1300.4,289.6 1301.7,289.6 1303.0,290.1 1304.3,291.2 1305.6,290.2 1306.9,290.2 1308.2,289.9 1309.5,289.5 1310.8,288.8 1312.1,289.3 1313.4,290.4 1314.7,288.6 1316.0,291.1 1317.3,290.1 1318.6,289.6 1319.9,290.0 1321.2,291.3 1322.5,291.0 1323.8,291.0 1325.1,292.5 1326.4,293.0 1327.7,289.6 1329.0,291.8 1330.3,290.2 1331.6,289.7 1332.9,290.6 1334.2,292.2 1335.5,290.9 1336.8,290.8 1338.1,292.7 1339.4,291.8 1340.7,291.3 1342.0,293.2 1343.3,291.9 1344.6,290.8 1345.9,290.4 1347.2,291.1 1348.5,291.8 1349.8,292.6 1351.1,292.5 1352.4,291.8 1353.7,290.5 1355.0,292.6 1356.3,291.8 1357.6,290.6 1358.9,290.5 1360.2,291.9 1361.5,292.0 1362.8,292.5 1364.1,290.4 1365.4,293.4 1366.7,289.5 1368.0,291.2 1369.3,292.4 1370.6,291.9 1371.9,289.7 1373.2,291.1 1374.5,291.5 1375.8,290.7 1377.1,288.8 1378.4,291.2 1379.7,287.6 1381.0,289.1 1382.3,287.7 1383.6,288.1 1384.9,288.0 1386.2,288.6 1387.5,286.7 1388.8,288.0 1390.1,288.9 1391.4,287.6 1392.7,287.8 1394.0,287.6 1395.3,287.3 1396.6,287.3 1397.9,287.4 1399.2,287.8 1400.5,289.5 1401.8,289.3 1403.1,287.3 1404.4,287.4 1405.7,287.0 1407.0,286.3 1408.3,289.7 1409.6,289.1 1410.9,286.8 1412.2,289.0 1413.5,291.3 1414.8,289.9 1416.1,290.1 1417.4,290.0 1418.7,289.3 1420.0,289.1 1421.3,289.6 1422.6,290.8 1423.9,290.6 1425.2,291.7 1426.5,292.9 1427.8,291.9 1429.1,292.3 1430.4,291.2 1431.7,290.3 1433.0,293.7 1434.3,292.4 1435.6,292.9 1436.9,291.4 1438.2,290.1 1439.5,293.2 1440.8,290.0 1442.1,291.8 1443.4,291.5 1444.7,292.3 1446.0,292.9 1447.3,292.9 1448.6,290.2 1449.9,293.2 1451.2,290.3 1452.5,292.9 1453.8,291.8 1455.1,291.2 1456.4,291.8 1457.7,291.0 1459.0,292.4 1460.3,293.4 1461.6,293.3 1462.9,292.5 1464.2,293.6 1465.5,293.1 1466.8,294.6 1468.1,293.1 1469.4,292.0 1470.7,292.4 1472.0,291.9 1473.3,292.4 1474.6,292.6 1475.9,293.4 1477.2,293.6 1478.5,292.8 1479.8,293.2 1481.1,292.1 1482.4,292.3 1483.7,290.9 1485.0,292.1 1486.3,292.4 1487.6,294.9 1488.9,291.5 1490.2,293.0 1491.5,292.6 1492.8,291.3 1494.1,293.2 1495.4,293.0 1496.7,291.5 1498.0,291.0 1499.3,292.9 1500.6,291.5 1501.9,293.6 1503.2,292.7 1504.5,293.5 1505.8,292.7 1507.1,294.5 1508.4,293.7 1509.7,294.5 1511.0,293.1 1512.3,291.9 1513.6,291.5 1514.9,292.4 1516.2,293.2 1517.5,292.2 1518.8,294.9 1520.1,292.8 1521.4,293.3 1522.7,292.9 1524.0,291.5 1525.3,293.8 1526.6,293.4 1527.9,293.6 1529.2,291.7 1530.5,292.7 1531.8,292.6 1533.1,293.8 1534.4,291.1 1535.7,293.2 1537.0,293.8 1538.3,292.0 1539.6,291.6 1540.9,293.7 1542.2,292.6 1543.5,293.5 1544.8,293.1 1546.1,293.3 1547.4,292.0 1548.7,290.1 1550.0,292.8 1551.3,291.4 1552.6,292.7 1553.9,291.5 1555.2,293.7 1556.5,291.8 1557.8,292.8 1559.1,293.1 1560.4,291.8 1561.7,292.2 1563.0,291.9 1564.3,290.9 1565.6,293.3 1566.9,290.9 1568.2,290.2 1569.5,291.3 1570.8,291.9 1572.1,291.8 1573.4,291.4 1574.7,291.3 1576.0,289.7 1577.3,292.4 1578.6,293.5 1579.9,291.0 1581.2,289.9 1582.5,292.5 1583.8,291.6 1585.1,289.8 1586.4,291.1 1587.7,290.4 1589.0,290.7 1590.3,293.9 1591.6,293.0 1592.9,291.9 1594.2,292.1 1595.5,293.8 1596.8,291.1 1598.1,293.0 1599.4,291.7 1600.7,293.2 1602.0,292.7 1603.3,291.7 1604.6,293.7 1605.9,293.2 1607.2,294.6 1608.5,292.4 1609.8,293.0 1611.1,292.3 1612.4,294.3 1613.7,292.4 1615.0,293.2 1616.3,294.7 1617.6,293.9 1618.9,293.8 1620.2,293.9 1621.5,294.0 1622.8,294.4 1624.1,293.6 1625.4,291.9 1626.7,295.4 1628.0,293.1 1629.3,296.2 1630.6,294.7 1631.9,296.4 1633.2,295.8 1634.0,295.1" stroke="#f0f" stroke-width="7.8"/>
</g>
<g fill="none" stroke="#000" stroke-width="7.8">
<rect x="152.45" y="23.3" width="1484.15" height="1099.50" stroke-linejoin="round"/>
<path d="M152.45 1122.80V1142.90 M219.91 1122.80V1132.70 M287.37 1122.80V1142.90 M354.83 1122.80V1132.70 M422.30 1122.80V1142.90 M489.76 1122.80V1132.70 M557.22 1122.80V1142.90 M624.68 1122.80V1132.70 M692.14 1122.80V1142.90 M759.60 1122.80V1132.70 M827.06 1122.80V1142.90 M894.52 1122.80V1132.70 M961.99 1122.80V1142.90 M1029.45 1122.80V1132.70 M1096.91 1122.80V1142.90 M1164.37 1122.80V1132.70 M1231.83 1122.80V1142.90 M1299.29 1122.80V1132.70 M1366.75 1122.80V1142.90 M1434.22 1122.80V1132.70 M1501.68 1122.80V1142.90 M1569.14 1122.80V1132.70 M1636.60 1122.80V1142.90" stroke-linecap="round"/>
</g>
<g class="tl" fill="#000">
<text transform="translate(152.45 1204.1) scale(1.0 1.035)">5</text>
<text transform="translate(287.37 1204.1) scale(1.0 1.035)">10</text>
<text transform="translate(422.30 1204.1) scale(1.0 1.035)">15</text>
<text transform="translate(557.22 1204.1) scale(1.0 1.035)">20</text>
<text transform="translate(692.14 1204.1) scale(1.0 1.035)">25</text>
<text transform="translate(827.06 1204.1) scale(1.0 1.035)">30</text>
<text transform="translate(961.99 1204.1) scale(1.0 1.035)">35</text>
<text transform="translate(1096.91 1204.1) scale(1.0 1.035)">40</text>
<text transform="translate(1231.83 1204.1) scale(1.0 1.035)">45</text>
<text transform="translate(1366.75 1204.1) scale(1.0 1.035)">50</text>
<text transform="translate(1501.68 1204.1) scale(1.0 1.035)">55</text>
<text transform="translate(1636.60 1204.1) scale(1.0 1.035)">60</text>
</g>
<text class="xt" transform="translate(692.9 1302.4) scale(0.9993 1.002)">2-Theta(deg.)</text>
<text class="yt" transform="translate(72.5 784.8) rotate(-90) scale(0.9957 0.996)">Intensity(a.u.)</text>
<g fill="#000">
<text class="lg" transform="translate(1408.93 254.3) scale(1.005 1.043)" stroke="#000" stroke-width="0.7">T=160</text>
<text class="dg" transform="translate(1567.37 253.33) scale(0.9562 0.9908)" stroke="#fff" stroke-width="1.2">℃</text>
<text class="lg" transform="translate(1410.43 440.3) scale(1.005 1.043)" stroke="#000" stroke-width="0.7">T=150</text>
<text class="dg" transform="translate(1569.56 439.33) scale(0.9608 0.9957)" stroke="#fff" stroke-width="1.2">℃</text>
<text class="lg" transform="translate(1410.43 839.2) scale(1.005 1.043)" stroke="#000" stroke-width="0.7">T=140</text>
<text class="dg" transform="translate(1569.17 838.23) scale(0.9562 0.9933)" stroke="#fff" stroke-width="1.2">℃</text>
<text class="lg" transform="translate(1416.13 1054.1) scale(1.005 1.043)" stroke="#000" stroke-width="0.7">T=130</text>
<text class="dg" transform="translate(1574.79 1053.64) scale(0.9494 0.9835)" stroke="#fff" stroke-width="1.2">℃</text>
</g>
</svg>
</body></html>
